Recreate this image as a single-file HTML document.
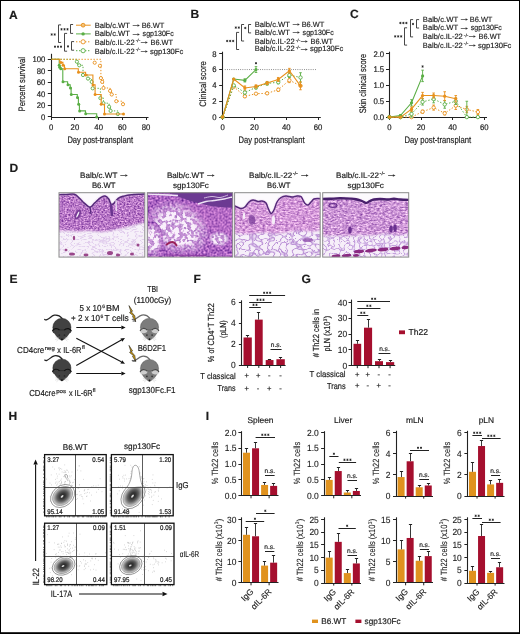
<!DOCTYPE html><html><head><meta charset="utf-8"><style>html,body{margin:0;padding:0;background:#fff;}svg{display:block;will-change:transform;}text{font-family:"Liberation Sans",sans-serif;text-rendering:geometricPrecision;fill:#1c1c1c;stroke:#1c1c1c;stroke-width:0.18px;}</style></head><body>
<svg width="520" height="634" viewBox="0 0 520 634">
<defs>
<linearGradient id="g1" x1="0" y1="0" x2="0" y2="1">
 <stop offset="0" stop-color="#a868b8"/><stop offset="0.1" stop-color="#9a58b0"/>
 <stop offset="0.5" stop-color="#b070c0"/><stop offset="0.62" stop-color="#d2b0dc"/>
 <stop offset="1" stop-color="#e6d8ee"/></linearGradient>
<linearGradient id="g2" x1="0" y1="0" x2="0" y2="1">
 <stop offset="0" stop-color="#9050a8"/><stop offset="0.3" stop-color="#b070c4"/>
 <stop offset="1" stop-color="#c8a0d8"/></linearGradient>
<linearGradient id="g3" x1="0" y1="0" x2="0" y2="1">
 <stop offset="0" stop-color="#fbf8fc"/><stop offset="0.15" stop-color="#f0e0f2"/>
 <stop offset="0.2" stop-color="#c890d0"/><stop offset="0.6" stop-color="#c890d0"/>
 <stop offset="0.66" stop-color="#ece0f2"/><stop offset="1" stop-color="#eee4f4"/></linearGradient>
<linearGradient id="g4" x1="0" y1="0" x2="0" y2="1">
 <stop offset="0" stop-color="#fbf8fc"/><stop offset="0.1" stop-color="#fbf8fc"/>
 <stop offset="0.13" stop-color="#603080"/><stop offset="0.2" stop-color="#c090cc"/>
 <stop offset="0.65" stop-color="#c498d0"/><stop offset="0.7" stop-color="#eee4f4"/>
 <stop offset="1" stop-color="#e8d8ee"/></linearGradient>
<filter id="fSoft" x="-0.1" y="-0.1" width="1.2" height="1.2"><feGaussianBlur stdDeviation="1.1"/></filter><radialGradient id="rgF2"><stop offset="0" stop-color="#fff"/><stop offset="0.55" stop-color="#fff"/><stop offset="1" stop-color="#000"/></radialGradient><filter id="fD1" x="0" y="0" width="1" height="1" color-interpolation-filters="sRGB">
 <feTurbulence type="fractalNoise" baseFrequency="0.55 0.75" numOctaves="2" seed="3"/>
 <feColorMatrix type="matrix" values="0.798 0 0 0 0.321  0.874 0 0 0 0.033  0.570 0 0 0 0.495  0 0 0 0 1"/>
 <feGaussianBlur stdDeviation="0.4"/>
</filter>
<filter id="fD2" x="0" y="0" width="1" height="1" color-interpolation-filters="sRGB">
 <feTurbulence type="fractalNoise" baseFrequency="0.5" numOctaves="2" seed="8"/>
 <feColorMatrix type="matrix" values="0.874 0 0 0 0.233  0.798 0 0 0 -0.009  0.570 0 0 0 0.475  0 0 0 0 1"/>
 <feGaussianBlur stdDeviation="0.4"/>
</filter>
<filter id="fD3" x="0" y="0" width="1" height="1" color-interpolation-filters="sRGB">
 <feTurbulence type="fractalNoise" baseFrequency="0.35 0.7" numOctaves="2" seed="13"/>
 <feColorMatrix type="matrix" values="0.684 0 0 0 0.488  0.836 0 0 0 0.182  0.494 0 0 0 0.603  0 0 0 0 1"/>
 <feGaussianBlur stdDeviation="0.4"/>
</filter>
<filter id="fD4" x="0" y="0" width="1" height="1" color-interpolation-filters="sRGB">
 <feTurbulence type="fractalNoise" baseFrequency="0.35 0.7" numOctaves="2" seed="17"/>
 <feColorMatrix type="matrix" values="0.741 0 0 0 0.430  0.874 0 0 0 0.153  0.532 0 0 0 0.574  0 0 0 0 1"/>
 <feGaussianBlur stdDeviation="0.4"/>
</filter>
<filter id="fLace1" x="0" y="0" width="1" height="1" color-interpolation-filters="sRGB">
 <feTurbulence type="turbulence" baseFrequency="0.14 0.3" numOctaves="1" seed="5"/>
 <feColorMatrix type="matrix" values="0 0 0 0 0.76  0 0 0 0 0.6  0 0 0 0 0.86  -3.5 0 0 0 0.38"/>
 <feGaussianBlur stdDeviation="0.3"/>
</filter><filter id="fLace3" x="0" y="0" width="1" height="1" color-interpolation-filters="sRGB">
 <feTurbulence type="turbulence" baseFrequency="0.16 0.2" numOctaves="1" seed="9"/>
 <feColorMatrix type="matrix" values="0 0 0 0 0.7  0 0 0 0 0.52  0 0 0 0 0.82  -5 0 0 0 0.85"/>
 <feGaussianBlur stdDeviation="0.3"/>
</filter><filter id="fLace4" x="0" y="0" width="1" height="1" color-interpolation-filters="sRGB">
 <feTurbulence type="turbulence" baseFrequency="0.2 0.24" numOctaves="1" seed="4"/>
 <feColorMatrix type="matrix" values="0 0 0 0 0.72  0 0 0 0 0.55  0 0 0 0 0.84  -5 0 0 0 0.8"/>
 <feGaussianBlur stdDeviation="0.3"/>
</filter><filter id="fBlob" x="0" y="0" width="1" height="1" color-interpolation-filters="sRGB">
 <feTurbulence type="fractalNoise" baseFrequency="0.24" numOctaves="2" seed="21"/>
 <feColorMatrix type="matrix" values="0 0 0 0 1  0 0 0 0 0.98  0 0 0 0 1  9 0 0 0 -4.0"/>
 <feGaussianBlur stdDeviation="0.3"/>
</filter>
<clipPath id="hc0"><rect x="59.0" y="192.7" width="85.80000000000001" height="64.40000000000003"/></clipPath><clipPath id="hc1"><rect x="147.3" y="192.7" width="85.39999999999998" height="64.40000000000003"/></clipPath><clipPath id="hc2"><rect x="234.6" y="192.7" width="85.6" height="64.40000000000003"/></clipPath><clipPath id="hc3"><rect x="322.7" y="192.7" width="86.0" height="64.40000000000003"/></clipPath><radialGradient id="gBlob"><stop offset="0" stop-color="#222"/><stop offset="0.3" stop-color="#383838"/><stop offset="0.55" stop-color="#606060"/><stop offset="0.8" stop-color="#a4a4a4"/><stop offset="1" stop-color="#e0e0e0"/></radialGradient></defs>
<rect x="0.00" y="0.00" width="520.00" height="634.00" fill="#fff"/>
<text x="9.00" y="18.60" font-size="12" font-weight="bold" fill="#111" stroke="#111">A</text>
<line x1="76.00" y1="25.20" x2="90.70" y2="25.20" stroke="#E8901C" stroke-width="1"/>
<circle cx="83.10" cy="25.20" r="1.9" fill="#f2c27a" stroke="#E8901C" stroke-width="0.9"/>
<line x1="76.00" y1="33.90" x2="90.70" y2="33.90" stroke="#5AAE45" stroke-width="1"/>
<circle cx="83.10" cy="33.90" r="1.7" fill="#5AAE45" stroke="none" stroke-width="1"/>
<line x1="76.00" y1="41.80" x2="90.70" y2="41.80" stroke="#E8901C" stroke-width="1" stroke-dasharray="1.4,1.6"/>
<circle cx="83.10" cy="41.80" r="2.1" fill="#fff" stroke="#E8901C" stroke-width="0.9"/>
<line x1="76.00" y1="50.70" x2="90.70" y2="50.70" stroke="#5AAE45" stroke-width="1" stroke-dasharray="1.4,1.6"/>
<circle cx="83.10" cy="50.70" r="2.1" fill="#fff" stroke="#5AAE45" stroke-width="0.9"/>
<text x="94.70" y="27.80" font-size="7.6" fill="#1e1e1e" stroke="#1e1e1e" textLength="35.3" lengthAdjust="spacingAndGlyphs" style="stroke-width:0.16px">Balb/c.WT</text>
<line x1="132.70" y1="25.50" x2="137.80" y2="25.50" stroke="#333" stroke-width="0.7"/>
<path d="M139.90,25.50 L137.50,24.25 L137.50,26.75 Z" stroke="none" stroke-width="1" fill="#333"/>
<text x="141.70" y="27.80" font-size="7.6" fill="#1e1e1e" stroke="#1e1e1e" textLength="22.6" lengthAdjust="spacingAndGlyphs" style="stroke-width:0.16px">B6.WT</text>
<text x="94.70" y="36.40" font-size="7.6" fill="#1e1e1e" stroke="#1e1e1e" textLength="35.3" lengthAdjust="spacingAndGlyphs" style="stroke-width:0.16px">Balb/c.WT</text>
<line x1="132.70" y1="34.50" x2="137.80" y2="34.50" stroke="#333" stroke-width="0.7"/>
<path d="M139.90,34.50 L137.50,33.25 L137.50,35.75 Z" stroke="none" stroke-width="1" fill="#333"/>
<text x="142.60" y="36.40" font-size="7.6" fill="#1e1e1e" stroke="#1e1e1e" textLength="31.1" lengthAdjust="spacingAndGlyphs" style="stroke-width:0.16px">sgp130Fc</text>
<text x="94.70" y="45.00" font-size="7.6" fill="#1e1e1e" stroke="#1e1e1e" textLength="40.0" lengthAdjust="spacingAndGlyphs" style="stroke-width:0.16px">Balb/c.IL-22</text>
<text x="135.70" y="42.40" font-size="4.4" fill="#1e1e1e" stroke="#1e1e1e" textLength="4.6" lengthAdjust="spacingAndGlyphs" style="stroke-width:0.16px">-/-</text>
<line x1="140.80" y1="42.50" x2="145.70" y2="42.50" stroke="#333" stroke-width="0.7"/>
<path d="M147.80,42.50 L145.40,41.25 L145.40,43.75 Z" stroke="none" stroke-width="1" fill="#333"/>
<text x="150.50" y="45.00" font-size="7.6" fill="#1e1e1e" stroke="#1e1e1e" textLength="22.5" lengthAdjust="spacingAndGlyphs" style="stroke-width:0.16px">B6.WT</text>
<text x="94.70" y="53.80" font-size="7.6" fill="#1e1e1e" stroke="#1e1e1e" textLength="40.0" lengthAdjust="spacingAndGlyphs" style="stroke-width:0.16px">Balb/c.IL-22</text>
<text x="135.70" y="51.20" font-size="4.4" fill="#1e1e1e" stroke="#1e1e1e" textLength="4.6" lengthAdjust="spacingAndGlyphs" style="stroke-width:0.16px">-/-</text>
<line x1="140.80" y1="51.50" x2="145.70" y2="51.50" stroke="#333" stroke-width="0.7"/>
<path d="M147.80,51.50 L145.40,50.25 L145.40,52.75 Z" stroke="none" stroke-width="1" fill="#333"/>
<text x="149.90" y="53.80" font-size="7.6" fill="#1e1e1e" stroke="#1e1e1e" textLength="33.4" lengthAdjust="spacingAndGlyphs" style="stroke-width:0.16px">sgp130Fc</text>
<path d="M73.10,24.50 H70.50 V33.40 H73.10" stroke="#333" stroke-width="0.9" fill="none"/>
<path d="M74.10,41.60 H71.50 V50.20 H74.10" stroke="#333" stroke-width="0.9" fill="none"/>
<path d="M61.10,24.90 H58.50 V42.50 H61.10" stroke="#333" stroke-width="0.9" fill="none"/>
<path d="M67.10,33.40 H64.50 V51.20 H67.10" stroke="#333" stroke-width="0.9" fill="none"/>
<path d="M61.50,28.15L61.50,30.45M60.50,28.73L62.50,29.88M62.50,28.73L60.50,29.88M64.50,28.15L64.50,30.45M63.50,28.73L65.50,29.88M65.50,28.73L63.50,29.88M67.50,28.15L67.50,30.45M66.50,28.73L68.50,29.88M68.50,28.73L66.50,29.88" stroke="#1a1a1a" stroke-width="0.72" fill="none"/>
<path d="M51.70,33.35L51.70,35.65M50.70,33.92L52.70,35.08M52.70,33.92L50.70,35.08M54.70,33.35L54.70,35.65M53.70,33.92L55.70,35.08M55.70,33.92L53.70,35.08" stroke="#1a1a1a" stroke-width="0.72" fill="none"/>
<path d="M55.00,45.55L55.00,47.85M54.00,46.12L56.00,47.28M56.00,46.12L54.00,47.28M58.00,45.55L58.00,47.85M57.00,46.12L59.00,47.28M59.00,46.12L57.00,47.28M61.00,45.55L61.00,47.85M60.00,46.12L62.00,47.28M62.00,46.12L60.00,47.28" stroke="#1a1a1a" stroke-width="0.72" fill="none"/>
<path d="M68.00,45.25L68.00,47.55M67.00,45.82L69.00,46.98M69.00,45.82L67.00,46.98" stroke="#1a1a1a" stroke-width="0.72" fill="none"/>
<line x1="51.50" y1="53.80" x2="51.50" y2="118.00" stroke="#222" stroke-width="1.1"/>
<line x1="51.00" y1="117.50" x2="148.50" y2="117.50" stroke="#222" stroke-width="1.2"/>
<line x1="47.80" y1="116.50" x2="51.50" y2="116.50" stroke="#222" stroke-width="1"/>
<text x="45.40" y="119.80" font-size="8.2" text-anchor="end" textLength="4.3" lengthAdjust="spacingAndGlyphs">0</text>
<line x1="47.80" y1="105.50" x2="51.50" y2="105.50" stroke="#222" stroke-width="1"/>
<text x="45.40" y="108.26" font-size="8.2" text-anchor="end" textLength="8.6" lengthAdjust="spacingAndGlyphs">20</text>
<line x1="47.80" y1="93.50" x2="51.50" y2="93.50" stroke="#222" stroke-width="1"/>
<text x="45.40" y="96.72" font-size="8.2" text-anchor="end" textLength="8.6" lengthAdjust="spacingAndGlyphs">40</text>
<line x1="47.80" y1="82.50" x2="51.50" y2="82.50" stroke="#222" stroke-width="1"/>
<text x="45.40" y="85.18" font-size="8.2" text-anchor="end" textLength="8.6" lengthAdjust="spacingAndGlyphs">60</text>
<line x1="47.80" y1="70.50" x2="51.50" y2="70.50" stroke="#222" stroke-width="1"/>
<text x="45.40" y="73.64" font-size="8.2" text-anchor="end" textLength="8.6" lengthAdjust="spacingAndGlyphs">80</text>
<line x1="47.80" y1="59.50" x2="51.50" y2="59.50" stroke="#222" stroke-width="1"/>
<text x="45.40" y="62.10" font-size="8.2" text-anchor="end" textLength="12.899999999999999" lengthAdjust="spacingAndGlyphs">100</text>
<line x1="51.50" y1="117.50" x2="51.50" y2="120.00" stroke="#222" stroke-width="1"/>
<text x="51.20" y="130.00" font-size="8.2" text-anchor="middle" textLength="4.3" lengthAdjust="spacingAndGlyphs">0</text>
<line x1="74.50" y1="117.50" x2="74.50" y2="120.00" stroke="#222" stroke-width="1"/>
<text x="74.92" y="130.00" font-size="8.2" text-anchor="middle" textLength="8.6" lengthAdjust="spacingAndGlyphs">20</text>
<line x1="98.50" y1="117.50" x2="98.50" y2="120.00" stroke="#222" stroke-width="1"/>
<text x="98.64" y="130.00" font-size="8.2" text-anchor="middle" textLength="8.6" lengthAdjust="spacingAndGlyphs">40</text>
<line x1="122.50" y1="117.50" x2="122.50" y2="120.00" stroke="#222" stroke-width="1"/>
<text x="122.36" y="130.00" font-size="8.2" text-anchor="middle" textLength="8.6" lengthAdjust="spacingAndGlyphs">60</text>
<line x1="146.50" y1="117.50" x2="146.50" y2="120.00" stroke="#222" stroke-width="1"/>
<text x="146.08" y="130.00" font-size="8.2" text-anchor="middle" textLength="8.6" lengthAdjust="spacingAndGlyphs">80</text>
<text x="100.20" y="143.40" font-size="9.4" text-anchor="middle" textLength="65.6" lengthAdjust="spacingAndGlyphs">Day post-transplant</text>
<text x="25.20" y="84.20" font-size="9.4" text-anchor="middle" textLength="54.5" lengthAdjust="spacingAndGlyphs" transform="rotate(-90 25.20 84.20)">Percent survival</text>
<path d="M51.50,59.30 H77.50 V65.30 H83.00 V75.00 H88.00 V78.60 H91.70 V81.90 H92.70 V88.30 H100.40 V98.10 H103.50 V103.20 H109.10 V106.80 H110.60 V110.90 H117.80 V114.00" stroke="#5AAE45" stroke-width="1" fill="none" stroke-dasharray="1.3,1.7"/>
<circle cx="76.90" cy="61.70" r="1.6" fill="#fff" stroke="#5AAE45" stroke-width="0.9"/>
<circle cx="79.20" cy="65.30" r="1.6" fill="#fff" stroke="#5AAE45" stroke-width="0.9"/>
<circle cx="83.00" cy="75.00" r="1.6" fill="#fff" stroke="#5AAE45" stroke-width="0.9"/>
<circle cx="88.00" cy="78.60" r="1.6" fill="#fff" stroke="#5AAE45" stroke-width="0.9"/>
<circle cx="91.70" cy="81.90" r="1.6" fill="#fff" stroke="#5AAE45" stroke-width="0.9"/>
<circle cx="92.70" cy="88.30" r="1.6" fill="#fff" stroke="#5AAE45" stroke-width="0.9"/>
<circle cx="100.40" cy="98.10" r="1.6" fill="#fff" stroke="#5AAE45" stroke-width="0.9"/>
<circle cx="103.50" cy="103.20" r="1.6" fill="#fff" stroke="#5AAE45" stroke-width="0.9"/>
<circle cx="109.10" cy="106.80" r="1.6" fill="#fff" stroke="#5AAE45" stroke-width="0.9"/>
<circle cx="110.60" cy="110.90" r="1.6" fill="#fff" stroke="#5AAE45" stroke-width="0.9"/>
<circle cx="117.80" cy="114.00" r="1.6" fill="#fff" stroke="#5AAE45" stroke-width="0.9"/>
<path d="M51.50,59.30 H100.90 V78.10 H103.50 V88.00 H110.10 V90.90 H111.70 V94.50 H116.30 V101.20 H123.00 V104.20" stroke="#E8901C" stroke-width="1" fill="none" stroke-dasharray="1.3,1.7"/>
<circle cx="94.70" cy="62.70" r="1.6" fill="#fff" stroke="#E8901C" stroke-width="0.9"/>
<circle cx="99.90" cy="65.80" r="1.6" fill="#fff" stroke="#E8901C" stroke-width="0.9"/>
<circle cx="100.90" cy="78.10" r="1.6" fill="#fff" stroke="#E8901C" stroke-width="0.9"/>
<circle cx="102.20" cy="81.90" r="1.6" fill="#fff" stroke="#E8901C" stroke-width="0.9"/>
<circle cx="103.50" cy="88.00" r="1.6" fill="#fff" stroke="#E8901C" stroke-width="0.9"/>
<circle cx="110.10" cy="90.90" r="1.6" fill="#fff" stroke="#E8901C" stroke-width="0.9"/>
<circle cx="111.70" cy="94.50" r="1.6" fill="#fff" stroke="#E8901C" stroke-width="0.9"/>
<circle cx="116.30" cy="101.20" r="1.6" fill="#fff" stroke="#E8901C" stroke-width="0.9"/>
<circle cx="123.00" cy="104.20" r="1.6" fill="#fff" stroke="#E8901C" stroke-width="0.9"/>
<path d="M51.50,59.30 H59.20 V65.30 H59.70 V67.30 H60.80 V68.80 H62.80 V81.70 H67.60 V84.70 H70.20 V88.00 H71.10 V94.50 H77.30 V97.60 H78.40 V104.20 H79.40 V110.90 H85.50 V113.70 H96.70 V117.00" stroke="#5AAE45" stroke-width="1.1" fill="none"/>
<circle cx="59.20" cy="65.30" r="1.5" fill="#5AAE45" stroke="none" stroke-width="1"/>
<circle cx="59.70" cy="67.30" r="1.5" fill="#5AAE45" stroke="none" stroke-width="1"/>
<circle cx="60.80" cy="68.80" r="1.5" fill="#5AAE45" stroke="none" stroke-width="1"/>
<circle cx="63.00" cy="81.70" r="1.5" fill="#5AAE45" stroke="none" stroke-width="1"/>
<circle cx="68.00" cy="84.70" r="1.5" fill="#5AAE45" stroke="none" stroke-width="1"/>
<circle cx="70.50" cy="88.00" r="1.5" fill="#5AAE45" stroke="none" stroke-width="1"/>
<circle cx="71.30" cy="94.50" r="1.5" fill="#5AAE45" stroke="none" stroke-width="1"/>
<circle cx="77.50" cy="97.60" r="1.5" fill="#5AAE45" stroke="none" stroke-width="1"/>
<circle cx="78.70" cy="104.20" r="1.5" fill="#5AAE45" stroke="none" stroke-width="1"/>
<circle cx="79.70" cy="110.90" r="1.5" fill="#5AAE45" stroke="none" stroke-width="1"/>
<circle cx="85.70" cy="113.70" r="1.5" fill="#5AAE45" stroke="none" stroke-width="1"/>
<circle cx="96.70" cy="117.00" r="1.5" fill="#5AAE45" stroke="none" stroke-width="1"/>
<path d="M51.50,59.30 H59.80 V62.40 H62.90 V65.30 H64.50 V68.80 H78.30 V72.20 H85.60 V75.00 H92.90 V84.70 H95.10 V94.50 H101.20 V104.20 H104.50 V114.00 H123.50 V114.00" stroke="#E8901C" stroke-width="1.1" fill="none"/>
<circle cx="60.80" cy="62.40" r="1.5" fill="#E8901C" stroke="none" stroke-width="1"/>
<circle cx="63.10" cy="65.30" r="1.5" fill="#E8901C" stroke="none" stroke-width="1"/>
<circle cx="64.70" cy="68.80" r="1.5" fill="#E8901C" stroke="none" stroke-width="1"/>
<circle cx="78.50" cy="72.20" r="1.5" fill="#E8901C" stroke="none" stroke-width="1"/>
<circle cx="85.70" cy="75.00" r="1.5" fill="#E8901C" stroke="none" stroke-width="1"/>
<circle cx="93.00" cy="85.00" r="1.5" fill="#E8901C" stroke="none" stroke-width="1"/>
<circle cx="95.10" cy="94.50" r="1.5" fill="#E8901C" stroke="none" stroke-width="1"/>
<circle cx="101.20" cy="104.20" r="1.5" fill="#E8901C" stroke="none" stroke-width="1"/>
<circle cx="104.50" cy="114.00" r="1.5" fill="#E8901C" stroke="none" stroke-width="1"/>
<circle cx="123.50" cy="114.00" r="1.5" fill="#E8901C" stroke="none" stroke-width="1"/>
<text x="190.40" y="18.40" font-size="12" font-weight="bold" fill="#111" stroke="#111">B</text>
<text x="254.70" y="27.10" font-size="7.6" fill="#1e1e1e" stroke="#1e1e1e" textLength="35.3" lengthAdjust="spacingAndGlyphs" style="stroke-width:0.16px">Balb/c.WT</text>
<line x1="292.70" y1="24.50" x2="297.80" y2="24.50" stroke="#333" stroke-width="0.7"/>
<path d="M299.90,24.50 L297.50,23.25 L297.50,25.75 Z" stroke="none" stroke-width="1" fill="#333"/>
<text x="301.70" y="27.10" font-size="7.6" fill="#1e1e1e" stroke="#1e1e1e" textLength="22.6" lengthAdjust="spacingAndGlyphs" style="stroke-width:0.16px">B6.WT</text>
<text x="254.70" y="34.90" font-size="7.6" fill="#1e1e1e" stroke="#1e1e1e" textLength="35.3" lengthAdjust="spacingAndGlyphs" style="stroke-width:0.16px">Balb/c.WT</text>
<line x1="292.70" y1="32.50" x2="297.80" y2="32.50" stroke="#333" stroke-width="0.7"/>
<path d="M299.90,32.50 L297.50,31.25 L297.50,33.75 Z" stroke="none" stroke-width="1" fill="#333"/>
<text x="302.60" y="34.90" font-size="7.6" fill="#1e1e1e" stroke="#1e1e1e" textLength="31.1" lengthAdjust="spacingAndGlyphs" style="stroke-width:0.16px">sgp130Fc</text>
<text x="254.70" y="44.10" font-size="7.6" fill="#1e1e1e" stroke="#1e1e1e" textLength="40.0" lengthAdjust="spacingAndGlyphs" style="stroke-width:0.16px">Balb/c.IL-22</text>
<text x="295.70" y="41.50" font-size="4.4" fill="#1e1e1e" stroke="#1e1e1e" textLength="4.6" lengthAdjust="spacingAndGlyphs" style="stroke-width:0.16px">-/-</text>
<line x1="300.80" y1="41.50" x2="305.70" y2="41.50" stroke="#333" stroke-width="0.7"/>
<path d="M307.80,41.50 L305.40,40.25 L305.40,42.75 Z" stroke="none" stroke-width="1" fill="#333"/>
<text x="310.50" y="44.10" font-size="7.6" fill="#1e1e1e" stroke="#1e1e1e" textLength="22.5" lengthAdjust="spacingAndGlyphs" style="stroke-width:0.16px">B6.WT</text>
<text x="254.70" y="51.40" font-size="7.6" fill="#1e1e1e" stroke="#1e1e1e" textLength="40.0" lengthAdjust="spacingAndGlyphs" style="stroke-width:0.16px">Balb/c.IL-22</text>
<text x="295.70" y="48.80" font-size="4.4" fill="#1e1e1e" stroke="#1e1e1e" textLength="4.6" lengthAdjust="spacingAndGlyphs" style="stroke-width:0.16px">-/-</text>
<line x1="300.80" y1="49.50" x2="305.70" y2="49.50" stroke="#333" stroke-width="0.7"/>
<path d="M307.80,49.50 L305.40,48.25 L305.40,50.75 Z" stroke="none" stroke-width="1" fill="#333"/>
<text x="309.90" y="51.40" font-size="7.6" fill="#1e1e1e" stroke="#1e1e1e" textLength="33.4" lengthAdjust="spacingAndGlyphs" style="stroke-width:0.16px">sgp130Fc</text>
<path d="M251.10,24.50 H248.50 V32.90 H251.10" stroke="#333" stroke-width="0.9" fill="none"/>
<path d="M244.10,24.50 H241.50 V41.00 H244.10" stroke="#333" stroke-width="0.9" fill="none"/>
<path d="M239.10,32.40 H236.50 V49.50 H239.10" stroke="#333" stroke-width="0.9" fill="none"/>
<path d="M245.30,26.85L245.30,29.15M244.30,27.43L246.30,28.57M246.30,27.43L244.30,28.57" stroke="#1a1a1a" stroke-width="0.72" fill="none"/>
<path d="M235.80,26.45L235.80,28.75M234.80,27.03L236.80,28.18M236.80,27.03L234.80,28.18M238.80,26.45L238.80,28.75M237.80,27.03L239.80,28.18M239.80,27.03L237.80,28.18" stroke="#1a1a1a" stroke-width="0.72" fill="none"/>
<path d="M227.20,39.85L227.20,42.15M226.20,40.42L228.20,41.58M228.20,40.42L226.20,41.58M230.20,39.85L230.20,42.15M229.20,40.42L231.20,41.58M231.20,40.42L229.20,41.58M233.20,39.85L233.20,42.15M232.20,40.42L234.20,41.58M234.20,40.42L232.20,41.58" stroke="#1a1a1a" stroke-width="0.72" fill="none"/>
<line x1="222.50" y1="51.70" x2="222.50" y2="118.00" stroke="#222" stroke-width="1.1"/>
<line x1="222.00" y1="117.50" x2="320.80" y2="117.50" stroke="#222" stroke-width="1.2"/>
<line x1="219.20" y1="117.50" x2="222.50" y2="117.50" stroke="#222" stroke-width="1"/>
<text x="216.60" y="120.00" font-size="8.2" text-anchor="end" textLength="4.3" lengthAdjust="spacingAndGlyphs">0</text>
<line x1="219.20" y1="101.50" x2="222.50" y2="101.50" stroke="#222" stroke-width="1"/>
<text x="216.60" y="104.15" font-size="8.2" text-anchor="end" textLength="4.3" lengthAdjust="spacingAndGlyphs">2</text>
<line x1="219.20" y1="85.50" x2="222.50" y2="85.50" stroke="#222" stroke-width="1"/>
<text x="216.60" y="88.30" font-size="8.2" text-anchor="end" textLength="4.3" lengthAdjust="spacingAndGlyphs">4</text>
<line x1="219.20" y1="69.50" x2="222.50" y2="69.50" stroke="#222" stroke-width="1"/>
<text x="216.60" y="72.45" font-size="8.2" text-anchor="end" textLength="4.3" lengthAdjust="spacingAndGlyphs">6</text>
<line x1="219.20" y1="53.50" x2="222.50" y2="53.50" stroke="#222" stroke-width="1"/>
<text x="216.60" y="56.60" font-size="8.2" text-anchor="end" textLength="4.3" lengthAdjust="spacingAndGlyphs">8</text>
<line x1="222.50" y1="117.50" x2="222.50" y2="120.00" stroke="#222" stroke-width="1"/>
<text x="222.60" y="130.30" font-size="8.2" text-anchor="middle" textLength="4.3" lengthAdjust="spacingAndGlyphs">0</text>
<line x1="254.50" y1="117.50" x2="254.50" y2="120.00" stroke="#222" stroke-width="1"/>
<text x="254.40" y="130.30" font-size="8.2" text-anchor="middle" textLength="8.6" lengthAdjust="spacingAndGlyphs">20</text>
<line x1="286.50" y1="117.50" x2="286.50" y2="120.00" stroke="#222" stroke-width="1"/>
<text x="286.20" y="130.30" font-size="8.2" text-anchor="middle" textLength="8.6" lengthAdjust="spacingAndGlyphs">40</text>
<line x1="318.50" y1="117.50" x2="318.50" y2="120.00" stroke="#222" stroke-width="1"/>
<text x="318.00" y="130.30" font-size="8.2" text-anchor="middle" textLength="8.6" lengthAdjust="spacingAndGlyphs">60</text>
<text x="271.50" y="143.00" font-size="9.4" text-anchor="middle" textLength="66" lengthAdjust="spacingAndGlyphs">Day post-transplant</text>
<text x="206.20" y="84.00" font-size="9.4" text-anchor="middle" textLength="45.5" lengthAdjust="spacingAndGlyphs" transform="rotate(-90 206.20 84.00)">Clinical score</text>
<line x1="224.80" y1="69.55" x2="316.30" y2="69.55" stroke="#777" stroke-width="0.9" stroke-dasharray="0.9,1.3"/>
<path d="M222.60,117.10 L233.73,86.67 L244.86,96.34 L255.99,93.72 L267.12,93.32 L278.25,89.76 L289.38,80.25 L300.51,85.80" stroke="#E8901C" stroke-width="1.0" fill="none" stroke-dasharray="1.4,1.8"/>
<line x1="244.86" y1="97.53" x2="244.86" y2="95.15" stroke="#E8901C" stroke-width="0.9"/>
<line x1="243.56" y1="95.15" x2="246.16" y2="95.15" stroke="#E8901C" stroke-width="0.9"/>
<line x1="243.56" y1="97.53" x2="246.16" y2="97.53" stroke="#E8901C" stroke-width="0.9"/>
<line x1="267.12" y1="94.51" x2="267.12" y2="92.14" stroke="#E8901C" stroke-width="0.9"/>
<line x1="265.82" y1="92.14" x2="268.42" y2="92.14" stroke="#E8901C" stroke-width="0.9"/>
<line x1="265.82" y1="94.51" x2="268.42" y2="94.51" stroke="#E8901C" stroke-width="0.9"/>
<line x1="278.25" y1="91.34" x2="278.25" y2="88.17" stroke="#E8901C" stroke-width="0.9"/>
<line x1="276.95" y1="88.17" x2="279.55" y2="88.17" stroke="#E8901C" stroke-width="0.9"/>
<line x1="276.95" y1="91.34" x2="279.55" y2="91.34" stroke="#E8901C" stroke-width="0.9"/>
<line x1="289.38" y1="82.63" x2="289.38" y2="77.87" stroke="#E8901C" stroke-width="0.9"/>
<line x1="288.08" y1="77.87" x2="290.68" y2="77.87" stroke="#E8901C" stroke-width="0.9"/>
<line x1="288.08" y1="82.63" x2="290.68" y2="82.63" stroke="#E8901C" stroke-width="0.9"/>
<circle cx="222.60" cy="117.10" r="1.7" fill="#fff" stroke="#E8901C" stroke-width="0.9"/>
<circle cx="233.73" cy="86.67" r="1.7" fill="#fff" stroke="#E8901C" stroke-width="0.9"/>
<circle cx="244.86" cy="96.34" r="1.7" fill="#fff" stroke="#E8901C" stroke-width="0.9"/>
<circle cx="255.99" cy="93.72" r="1.7" fill="#fff" stroke="#E8901C" stroke-width="0.9"/>
<circle cx="267.12" cy="93.32" r="1.7" fill="#fff" stroke="#E8901C" stroke-width="0.9"/>
<circle cx="278.25" cy="89.76" r="1.7" fill="#fff" stroke="#E8901C" stroke-width="0.9"/>
<circle cx="289.38" cy="80.25" r="1.7" fill="#fff" stroke="#E8901C" stroke-width="0.9"/>
<circle cx="300.51" cy="85.80" r="1.7" fill="#fff" stroke="#E8901C" stroke-width="0.9"/>
<path d="M222.60,117.10 L233.73,85.40 L244.86,92.53 L255.99,87.38 L267.12,83.42 L278.25,82.23 L289.38,75.10 L300.51,77.47" stroke="#5AAE45" stroke-width="1.0" fill="none" stroke-dasharray="1.4,1.8"/>
<line x1="244.86" y1="94.12" x2="244.86" y2="90.95" stroke="#5AAE45" stroke-width="0.9"/>
<line x1="243.56" y1="90.95" x2="246.16" y2="90.95" stroke="#5AAE45" stroke-width="0.9"/>
<line x1="243.56" y1="94.12" x2="246.16" y2="94.12" stroke="#5AAE45" stroke-width="0.9"/>
<line x1="255.99" y1="88.97" x2="255.99" y2="85.80" stroke="#5AAE45" stroke-width="0.9"/>
<line x1="254.69" y1="85.80" x2="257.29" y2="85.80" stroke="#5AAE45" stroke-width="0.9"/>
<line x1="254.69" y1="88.97" x2="257.29" y2="88.97" stroke="#5AAE45" stroke-width="0.9"/>
<line x1="267.12" y1="85.00" x2="267.12" y2="81.83" stroke="#5AAE45" stroke-width="0.9"/>
<line x1="265.82" y1="81.83" x2="268.42" y2="81.83" stroke="#5AAE45" stroke-width="0.9"/>
<line x1="265.82" y1="85.00" x2="268.42" y2="85.00" stroke="#5AAE45" stroke-width="0.9"/>
<line x1="278.25" y1="83.81" x2="278.25" y2="80.64" stroke="#5AAE45" stroke-width="0.9"/>
<line x1="276.95" y1="80.64" x2="279.55" y2="80.64" stroke="#5AAE45" stroke-width="0.9"/>
<line x1="276.95" y1="83.81" x2="279.55" y2="83.81" stroke="#5AAE45" stroke-width="0.9"/>
<line x1="289.38" y1="77.47" x2="289.38" y2="72.72" stroke="#5AAE45" stroke-width="0.9"/>
<line x1="288.08" y1="72.72" x2="290.68" y2="72.72" stroke="#5AAE45" stroke-width="0.9"/>
<line x1="288.08" y1="77.47" x2="290.68" y2="77.47" stroke="#5AAE45" stroke-width="0.9"/>
<line x1="300.51" y1="82.23" x2="300.51" y2="72.72" stroke="#5AAE45" stroke-width="0.9"/>
<line x1="299.21" y1="72.72" x2="301.81" y2="72.72" stroke="#5AAE45" stroke-width="0.9"/>
<line x1="299.21" y1="82.23" x2="301.81" y2="82.23" stroke="#5AAE45" stroke-width="0.9"/>
<circle cx="222.60" cy="117.10" r="1.7" fill="#fff" stroke="#5AAE45" stroke-width="0.9"/>
<circle cx="233.73" cy="85.40" r="1.7" fill="#fff" stroke="#5AAE45" stroke-width="0.9"/>
<circle cx="244.86" cy="92.53" r="1.7" fill="#fff" stroke="#5AAE45" stroke-width="0.9"/>
<circle cx="255.99" cy="87.38" r="1.7" fill="#fff" stroke="#5AAE45" stroke-width="0.9"/>
<circle cx="267.12" cy="83.42" r="1.7" fill="#fff" stroke="#5AAE45" stroke-width="0.9"/>
<circle cx="278.25" cy="82.23" r="1.7" fill="#fff" stroke="#5AAE45" stroke-width="0.9"/>
<circle cx="289.38" cy="75.10" r="1.7" fill="#fff" stroke="#5AAE45" stroke-width="0.9"/>
<circle cx="300.51" cy="77.47" r="1.7" fill="#fff" stroke="#5AAE45" stroke-width="0.9"/>
<path d="M222.60,117.10 L233.73,79.06 L244.86,80.41 L255.99,69.55" stroke="#5AAE45" stroke-width="1.1" fill="none"/>
<line x1="244.86" y1="81.99" x2="244.86" y2="78.82" stroke="#5AAE45" stroke-width="0.9"/>
<line x1="243.56" y1="78.82" x2="246.16" y2="78.82" stroke="#5AAE45" stroke-width="0.9"/>
<line x1="243.56" y1="81.99" x2="246.16" y2="81.99" stroke="#5AAE45" stroke-width="0.9"/>
<line x1="255.99" y1="72.48" x2="255.99" y2="66.62" stroke="#5AAE45" stroke-width="0.9"/>
<line x1="254.69" y1="66.62" x2="257.29" y2="66.62" stroke="#5AAE45" stroke-width="0.9"/>
<line x1="254.69" y1="72.48" x2="257.29" y2="72.48" stroke="#5AAE45" stroke-width="0.9"/>
<circle cx="222.60" cy="117.10" r="1.6" fill="#5AAE45" stroke="none" stroke-width="1"/>
<circle cx="233.73" cy="79.06" r="1.6" fill="#5AAE45" stroke="none" stroke-width="1"/>
<circle cx="244.86" cy="80.41" r="1.6" fill="#5AAE45" stroke="none" stroke-width="1"/>
<circle cx="255.99" cy="69.55" r="1.6" fill="#5AAE45" stroke="none" stroke-width="1"/>
<path d="M222.60,117.10 L233.73,79.06 L244.86,87.94 L255.99,86.43 L267.12,83.02 L278.25,79.46 L289.38,70.74 L300.51,85.80" stroke="#E8901C" stroke-width="1.1" fill="none"/>
<line x1="244.86" y1="89.92" x2="244.86" y2="85.95" stroke="#E8901C" stroke-width="0.9"/>
<line x1="243.56" y1="85.95" x2="246.16" y2="85.95" stroke="#E8901C" stroke-width="0.9"/>
<line x1="243.56" y1="89.92" x2="246.16" y2="89.92" stroke="#E8901C" stroke-width="0.9"/>
<line x1="255.99" y1="88.02" x2="255.99" y2="84.85" stroke="#E8901C" stroke-width="0.9"/>
<line x1="254.69" y1="84.85" x2="257.29" y2="84.85" stroke="#E8901C" stroke-width="0.9"/>
<line x1="254.69" y1="88.02" x2="257.29" y2="88.02" stroke="#E8901C" stroke-width="0.9"/>
<line x1="267.12" y1="84.61" x2="267.12" y2="81.44" stroke="#E8901C" stroke-width="0.9"/>
<line x1="265.82" y1="81.44" x2="268.42" y2="81.44" stroke="#E8901C" stroke-width="0.9"/>
<line x1="265.82" y1="84.61" x2="268.42" y2="84.61" stroke="#E8901C" stroke-width="0.9"/>
<line x1="278.25" y1="81.44" x2="278.25" y2="77.47" stroke="#E8901C" stroke-width="0.9"/>
<line x1="276.95" y1="77.47" x2="279.55" y2="77.47" stroke="#E8901C" stroke-width="0.9"/>
<line x1="276.95" y1="81.44" x2="279.55" y2="81.44" stroke="#E8901C" stroke-width="0.9"/>
<line x1="289.38" y1="73.12" x2="289.38" y2="68.36" stroke="#E8901C" stroke-width="0.9"/>
<line x1="288.08" y1="68.36" x2="290.68" y2="68.36" stroke="#E8901C" stroke-width="0.9"/>
<line x1="288.08" y1="73.12" x2="290.68" y2="73.12" stroke="#E8901C" stroke-width="0.9"/>
<line x1="300.51" y1="89.76" x2="300.51" y2="81.83" stroke="#E8901C" stroke-width="0.9"/>
<line x1="299.21" y1="81.83" x2="301.81" y2="81.83" stroke="#E8901C" stroke-width="0.9"/>
<line x1="299.21" y1="89.76" x2="301.81" y2="89.76" stroke="#E8901C" stroke-width="0.9"/>
<circle cx="222.60" cy="117.10" r="1.6" fill="#E8901C" stroke="none" stroke-width="1"/>
<circle cx="233.73" cy="79.06" r="1.6" fill="#E8901C" stroke="none" stroke-width="1"/>
<circle cx="244.86" cy="87.94" r="1.6" fill="#E8901C" stroke="none" stroke-width="1"/>
<circle cx="255.99" cy="86.43" r="1.6" fill="#E8901C" stroke="none" stroke-width="1"/>
<circle cx="267.12" cy="83.02" r="1.6" fill="#E8901C" stroke="none" stroke-width="1"/>
<circle cx="278.25" cy="79.46" r="1.6" fill="#E8901C" stroke="none" stroke-width="1"/>
<circle cx="289.38" cy="70.74" r="1.6" fill="#E8901C" stroke="none" stroke-width="1"/>
<circle cx="300.51" cy="85.80" r="1.6" fill="#E8901C" stroke="none" stroke-width="1"/>
<path d="M255.99,62.05L255.99,64.35M254.99,62.62L256.99,63.78M256.99,62.62L254.99,63.78" stroke="#1a1a1a" stroke-width="0.72" fill="none"/>
<text x="350.00" y="18.40" font-size="12" font-weight="bold" fill="#111" stroke="#111">C</text>
<text x="422.80" y="22.30" font-size="7.6" fill="#1e1e1e" stroke="#1e1e1e" textLength="35.3" lengthAdjust="spacingAndGlyphs" style="stroke-width:0.16px">Balb/c.WT</text>
<line x1="460.80" y1="19.50" x2="465.90" y2="19.50" stroke="#333" stroke-width="0.7"/>
<path d="M468.00,19.50 L465.60,18.25 L465.60,20.75 Z" stroke="none" stroke-width="1" fill="#333"/>
<text x="469.80" y="22.30" font-size="7.6" fill="#1e1e1e" stroke="#1e1e1e" textLength="22.6" lengthAdjust="spacingAndGlyphs" style="stroke-width:0.16px">B6.WT</text>
<text x="422.80" y="30.40" font-size="7.6" fill="#1e1e1e" stroke="#1e1e1e" textLength="35.3" lengthAdjust="spacingAndGlyphs" style="stroke-width:0.16px">Balb/c.WT</text>
<line x1="460.80" y1="28.50" x2="465.90" y2="28.50" stroke="#333" stroke-width="0.7"/>
<path d="M468.00,28.50 L465.60,27.25 L465.60,29.75 Z" stroke="none" stroke-width="1" fill="#333"/>
<text x="470.70" y="30.40" font-size="7.6" fill="#1e1e1e" stroke="#1e1e1e" textLength="31.1" lengthAdjust="spacingAndGlyphs" style="stroke-width:0.16px">sgp130Fc</text>
<text x="422.80" y="39.30" font-size="7.6" fill="#1e1e1e" stroke="#1e1e1e" textLength="40.0" lengthAdjust="spacingAndGlyphs" style="stroke-width:0.16px">Balb/c.IL-22</text>
<text x="463.80" y="36.70" font-size="4.4" fill="#1e1e1e" stroke="#1e1e1e" textLength="4.6" lengthAdjust="spacingAndGlyphs" style="stroke-width:0.16px">-/-</text>
<line x1="468.90" y1="36.50" x2="473.80" y2="36.50" stroke="#333" stroke-width="0.7"/>
<path d="M475.90,36.50 L473.50,35.25 L473.50,37.75 Z" stroke="none" stroke-width="1" fill="#333"/>
<text x="478.60" y="39.30" font-size="7.6" fill="#1e1e1e" stroke="#1e1e1e" textLength="22.5" lengthAdjust="spacingAndGlyphs" style="stroke-width:0.16px">B6.WT</text>
<text x="422.80" y="47.70" font-size="7.6" fill="#1e1e1e" stroke="#1e1e1e" textLength="40.0" lengthAdjust="spacingAndGlyphs" style="stroke-width:0.16px">Balb/c.IL-22</text>
<text x="463.80" y="45.10" font-size="4.4" fill="#1e1e1e" stroke="#1e1e1e" textLength="4.6" lengthAdjust="spacingAndGlyphs" style="stroke-width:0.16px">-/-</text>
<line x1="468.90" y1="45.50" x2="473.80" y2="45.50" stroke="#333" stroke-width="0.7"/>
<path d="M475.90,45.50 L473.50,44.25 L473.50,46.75 Z" stroke="none" stroke-width="1" fill="#333"/>
<text x="478.00" y="47.70" font-size="7.6" fill="#1e1e1e" stroke="#1e1e1e" textLength="33.4" lengthAdjust="spacingAndGlyphs" style="stroke-width:0.16px">sgp130Fc</text>
<path d="M419.10,19.60 H416.50 V28.00 H419.10" stroke="#333" stroke-width="0.9" fill="none"/>
<path d="M413.10,19.60 H410.50 V36.90 H413.10" stroke="#333" stroke-width="0.9" fill="none"/>
<path d="M407.10,27.80 H404.50 V45.10 H407.10" stroke="#333" stroke-width="0.9" fill="none"/>
<path d="M413.00,22.85L413.00,25.15M412.00,23.43L414.00,24.57M414.00,23.43L412.00,24.57" stroke="#1a1a1a" stroke-width="0.72" fill="none"/>
<path d="M400.40,21.85L400.40,24.15M399.40,22.43L401.40,23.57M401.40,22.43L399.40,23.57M403.40,21.85L403.40,24.15M402.40,22.43L404.40,23.57M404.40,22.43L402.40,23.57M406.40,21.85L406.40,24.15M405.40,22.43L407.40,23.57M407.40,22.43L405.40,23.57" stroke="#1a1a1a" stroke-width="0.72" fill="none"/>
<path d="M395.20,35.25L395.20,37.55M394.20,35.82L396.20,36.98M396.20,35.82L394.20,36.98M398.20,35.25L398.20,37.55M397.20,35.82L399.20,36.98M399.20,35.82L397.20,36.98M401.20,35.25L401.20,37.55M400.20,35.82L402.20,36.98M402.20,35.82L400.20,36.98" stroke="#1a1a1a" stroke-width="0.72" fill="none"/>
<line x1="389.50" y1="51.70" x2="389.50" y2="118.00" stroke="#222" stroke-width="1.1"/>
<line x1="389.00" y1="117.50" x2="487.00" y2="117.50" stroke="#222" stroke-width="1.2"/>
<line x1="386.00" y1="117.50" x2="389.50" y2="117.50" stroke="#222" stroke-width="1"/>
<text x="384.20" y="120.00" font-size="8.2" text-anchor="end" textLength="10.8" lengthAdjust="spacingAndGlyphs">0.0</text>
<line x1="386.00" y1="101.50" x2="389.50" y2="101.50" stroke="#222" stroke-width="1"/>
<text x="384.20" y="104.15" font-size="8.2" text-anchor="end" textLength="10.8" lengthAdjust="spacingAndGlyphs">0.5</text>
<line x1="386.00" y1="85.50" x2="389.50" y2="85.50" stroke="#222" stroke-width="1"/>
<text x="384.20" y="88.30" font-size="8.2" text-anchor="end" textLength="10.8" lengthAdjust="spacingAndGlyphs">1.0</text>
<line x1="386.00" y1="69.50" x2="389.50" y2="69.50" stroke="#222" stroke-width="1"/>
<text x="384.20" y="72.45" font-size="8.2" text-anchor="end" textLength="10.8" lengthAdjust="spacingAndGlyphs">1.5</text>
<line x1="386.00" y1="53.50" x2="389.50" y2="53.50" stroke="#222" stroke-width="1"/>
<text x="384.20" y="56.60" font-size="8.2" text-anchor="end" textLength="10.8" lengthAdjust="spacingAndGlyphs">2.0</text>
<line x1="389.50" y1="117.50" x2="389.50" y2="120.00" stroke="#222" stroke-width="1"/>
<text x="389.40" y="130.30" font-size="8.2" text-anchor="middle" textLength="4.3" lengthAdjust="spacingAndGlyphs">0</text>
<line x1="421.50" y1="117.50" x2="421.50" y2="120.00" stroke="#222" stroke-width="1"/>
<text x="421.00" y="130.30" font-size="8.2" text-anchor="middle" textLength="8.6" lengthAdjust="spacingAndGlyphs">20</text>
<line x1="452.50" y1="117.50" x2="452.50" y2="120.00" stroke="#222" stroke-width="1"/>
<text x="452.60" y="130.30" font-size="8.2" text-anchor="middle" textLength="8.6" lengthAdjust="spacingAndGlyphs">40</text>
<line x1="484.50" y1="117.50" x2="484.50" y2="120.00" stroke="#222" stroke-width="1"/>
<text x="484.20" y="130.30" font-size="8.2" text-anchor="middle" textLength="8.6" lengthAdjust="spacingAndGlyphs">60</text>
<text x="437.80" y="143.20" font-size="9.4" text-anchor="middle" textLength="66.5" lengthAdjust="spacingAndGlyphs">Day post-transplant</text>
<text x="365.60" y="83.50" font-size="9.4" text-anchor="middle" textLength="59.6" lengthAdjust="spacingAndGlyphs" transform="rotate(-90 365.60 83.50)">Skin clinical score</text>
<path d="M389.40,117.10 L400.46,117.10 L411.52,117.10 L422.58,111.71 L433.64,107.59 L444.70,113.30 L455.76,105.69 L466.82,109.49 L477.88,112.03" stroke="#E8901C" stroke-width="1.0" fill="none" stroke-dasharray="1.4,1.8"/>
<line x1="422.58" y1="113.30" x2="422.58" y2="110.13" stroke="#E8901C" stroke-width="0.9"/>
<line x1="421.28" y1="110.13" x2="423.88" y2="110.13" stroke="#E8901C" stroke-width="0.9"/>
<line x1="421.28" y1="113.30" x2="423.88" y2="113.30" stroke="#E8901C" stroke-width="0.9"/>
<line x1="433.64" y1="110.13" x2="433.64" y2="105.05" stroke="#E8901C" stroke-width="0.9"/>
<line x1="432.34" y1="105.05" x2="434.94" y2="105.05" stroke="#E8901C" stroke-width="0.9"/>
<line x1="432.34" y1="110.13" x2="434.94" y2="110.13" stroke="#E8901C" stroke-width="0.9"/>
<line x1="444.70" y1="114.88" x2="444.70" y2="111.71" stroke="#E8901C" stroke-width="0.9"/>
<line x1="443.40" y1="111.71" x2="446.00" y2="111.71" stroke="#E8901C" stroke-width="0.9"/>
<line x1="443.40" y1="114.88" x2="446.00" y2="114.88" stroke="#E8901C" stroke-width="0.9"/>
<line x1="455.76" y1="109.49" x2="455.76" y2="101.88" stroke="#E8901C" stroke-width="0.9"/>
<line x1="454.46" y1="101.88" x2="457.06" y2="101.88" stroke="#E8901C" stroke-width="0.9"/>
<line x1="454.46" y1="109.49" x2="457.06" y2="109.49" stroke="#E8901C" stroke-width="0.9"/>
<line x1="466.82" y1="112.66" x2="466.82" y2="106.32" stroke="#E8901C" stroke-width="0.9"/>
<line x1="465.52" y1="106.32" x2="468.12" y2="106.32" stroke="#E8901C" stroke-width="0.9"/>
<line x1="465.52" y1="112.66" x2="468.12" y2="112.66" stroke="#E8901C" stroke-width="0.9"/>
<line x1="477.88" y1="114.56" x2="477.88" y2="109.49" stroke="#E8901C" stroke-width="0.9"/>
<line x1="476.58" y1="109.49" x2="479.18" y2="109.49" stroke="#E8901C" stroke-width="0.9"/>
<line x1="476.58" y1="114.56" x2="479.18" y2="114.56" stroke="#E8901C" stroke-width="0.9"/>
<circle cx="389.40" cy="117.10" r="1.7" fill="#fff" stroke="#E8901C" stroke-width="0.9"/>
<circle cx="400.46" cy="117.10" r="1.7" fill="#fff" stroke="#E8901C" stroke-width="0.9"/>
<circle cx="411.52" cy="117.10" r="1.7" fill="#fff" stroke="#E8901C" stroke-width="0.9"/>
<circle cx="422.58" cy="111.71" r="1.7" fill="#fff" stroke="#E8901C" stroke-width="0.9"/>
<circle cx="433.64" cy="107.59" r="1.7" fill="#fff" stroke="#E8901C" stroke-width="0.9"/>
<circle cx="444.70" cy="113.30" r="1.7" fill="#fff" stroke="#E8901C" stroke-width="0.9"/>
<circle cx="455.76" cy="105.69" r="1.7" fill="#fff" stroke="#E8901C" stroke-width="0.9"/>
<circle cx="466.82" cy="109.49" r="1.7" fill="#fff" stroke="#E8901C" stroke-width="0.9"/>
<circle cx="477.88" cy="112.03" r="1.7" fill="#fff" stroke="#E8901C" stroke-width="0.9"/>
<path d="M389.40,117.10 L400.46,117.10 L411.52,113.93 L422.58,101.88 L433.64,99.03 L444.70,104.42 L455.76,101.25 L466.82,117.10 L477.88,117.10" stroke="#5AAE45" stroke-width="1.0" fill="none" stroke-dasharray="1.4,1.8"/>
<line x1="411.52" y1="117.10" x2="411.52" y2="110.76" stroke="#5AAE45" stroke-width="0.9"/>
<line x1="410.22" y1="110.76" x2="412.82" y2="110.76" stroke="#5AAE45" stroke-width="0.9"/>
<line x1="410.22" y1="117.10" x2="412.82" y2="117.10" stroke="#5AAE45" stroke-width="0.9"/>
<line x1="422.58" y1="105.05" x2="422.58" y2="98.71" stroke="#5AAE45" stroke-width="0.9"/>
<line x1="421.28" y1="98.71" x2="423.88" y2="98.71" stroke="#5AAE45" stroke-width="0.9"/>
<line x1="421.28" y1="105.05" x2="423.88" y2="105.05" stroke="#5AAE45" stroke-width="0.9"/>
<line x1="433.64" y1="102.83" x2="433.64" y2="95.23" stroke="#5AAE45" stroke-width="0.9"/>
<line x1="432.34" y1="95.23" x2="434.94" y2="95.23" stroke="#5AAE45" stroke-width="0.9"/>
<line x1="432.34" y1="102.83" x2="434.94" y2="102.83" stroke="#5AAE45" stroke-width="0.9"/>
<line x1="444.70" y1="108.22" x2="444.70" y2="100.62" stroke="#5AAE45" stroke-width="0.9"/>
<line x1="443.40" y1="100.62" x2="446.00" y2="100.62" stroke="#5AAE45" stroke-width="0.9"/>
<line x1="443.40" y1="108.22" x2="446.00" y2="108.22" stroke="#5AAE45" stroke-width="0.9"/>
<line x1="455.76" y1="104.42" x2="455.76" y2="98.08" stroke="#5AAE45" stroke-width="0.9"/>
<line x1="454.46" y1="98.08" x2="457.06" y2="98.08" stroke="#5AAE45" stroke-width="0.9"/>
<line x1="454.46" y1="104.42" x2="457.06" y2="104.42" stroke="#5AAE45" stroke-width="0.9"/>
<line x1="466.82" y1="117.10" x2="466.82" y2="101.25" stroke="#5AAE45" stroke-width="0.9"/>
<line x1="465.52" y1="101.25" x2="468.12" y2="101.25" stroke="#5AAE45" stroke-width="0.9"/>
<circle cx="389.40" cy="117.10" r="1.7" fill="#fff" stroke="#5AAE45" stroke-width="0.9"/>
<circle cx="400.46" cy="117.10" r="1.7" fill="#fff" stroke="#5AAE45" stroke-width="0.9"/>
<circle cx="411.52" cy="113.93" r="1.7" fill="#fff" stroke="#5AAE45" stroke-width="0.9"/>
<circle cx="422.58" cy="101.88" r="1.7" fill="#fff" stroke="#5AAE45" stroke-width="0.9"/>
<circle cx="433.64" cy="99.03" r="1.7" fill="#fff" stroke="#5AAE45" stroke-width="0.9"/>
<circle cx="444.70" cy="104.42" r="1.7" fill="#fff" stroke="#5AAE45" stroke-width="0.9"/>
<circle cx="455.76" cy="101.25" r="1.7" fill="#fff" stroke="#5AAE45" stroke-width="0.9"/>
<circle cx="466.82" cy="117.10" r="1.7" fill="#fff" stroke="#5AAE45" stroke-width="0.9"/>
<circle cx="477.88" cy="117.10" r="1.7" fill="#fff" stroke="#5AAE45" stroke-width="0.9"/>
<path d="M389.40,117.10 L400.46,115.52 L411.52,102.83 L422.58,75.89" stroke="#5AAE45" stroke-width="1.1" fill="none"/>
<line x1="400.46" y1="116.47" x2="400.46" y2="114.56" stroke="#5AAE45" stroke-width="0.9"/>
<line x1="399.16" y1="114.56" x2="401.76" y2="114.56" stroke="#5AAE45" stroke-width="0.9"/>
<line x1="399.16" y1="116.47" x2="401.76" y2="116.47" stroke="#5AAE45" stroke-width="0.9"/>
<line x1="411.52" y1="106.00" x2="411.52" y2="99.66" stroke="#5AAE45" stroke-width="0.9"/>
<line x1="410.22" y1="99.66" x2="412.82" y2="99.66" stroke="#5AAE45" stroke-width="0.9"/>
<line x1="410.22" y1="106.00" x2="412.82" y2="106.00" stroke="#5AAE45" stroke-width="0.9"/>
<line x1="422.58" y1="81.60" x2="422.58" y2="70.18" stroke="#5AAE45" stroke-width="0.9"/>
<line x1="421.28" y1="70.18" x2="423.88" y2="70.18" stroke="#5AAE45" stroke-width="0.9"/>
<line x1="421.28" y1="81.60" x2="423.88" y2="81.60" stroke="#5AAE45" stroke-width="0.9"/>
<circle cx="389.40" cy="117.10" r="1.6" fill="#5AAE45" stroke="none" stroke-width="1"/>
<circle cx="400.46" cy="115.52" r="1.6" fill="#5AAE45" stroke="none" stroke-width="1"/>
<circle cx="411.52" cy="102.83" r="1.6" fill="#5AAE45" stroke="none" stroke-width="1"/>
<circle cx="422.58" cy="75.89" r="1.6" fill="#5AAE45" stroke="none" stroke-width="1"/>
<path d="M389.40,117.10 L400.46,117.10 L411.52,109.17 L422.58,95.54 L433.64,95.54 L444.70,96.18 L455.76,98.71" stroke="#E8901C" stroke-width="1.1" fill="none"/>
<line x1="411.52" y1="111.39" x2="411.52" y2="106.96" stroke="#E8901C" stroke-width="0.9"/>
<line x1="410.22" y1="106.96" x2="412.82" y2="106.96" stroke="#E8901C" stroke-width="0.9"/>
<line x1="410.22" y1="111.39" x2="412.82" y2="111.39" stroke="#E8901C" stroke-width="0.9"/>
<line x1="422.58" y1="98.71" x2="422.58" y2="92.37" stroke="#E8901C" stroke-width="0.9"/>
<line x1="421.28" y1="92.37" x2="423.88" y2="92.37" stroke="#E8901C" stroke-width="0.9"/>
<line x1="421.28" y1="98.71" x2="423.88" y2="98.71" stroke="#E8901C" stroke-width="0.9"/>
<line x1="433.64" y1="98.08" x2="433.64" y2="93.01" stroke="#E8901C" stroke-width="0.9"/>
<line x1="432.34" y1="93.01" x2="434.94" y2="93.01" stroke="#E8901C" stroke-width="0.9"/>
<line x1="432.34" y1="98.08" x2="434.94" y2="98.08" stroke="#E8901C" stroke-width="0.9"/>
<line x1="444.70" y1="100.62" x2="444.70" y2="91.74" stroke="#E8901C" stroke-width="0.9"/>
<line x1="443.40" y1="91.74" x2="446.00" y2="91.74" stroke="#E8901C" stroke-width="0.9"/>
<line x1="443.40" y1="100.62" x2="446.00" y2="100.62" stroke="#E8901C" stroke-width="0.9"/>
<line x1="455.76" y1="101.88" x2="455.76" y2="95.54" stroke="#E8901C" stroke-width="0.9"/>
<line x1="454.46" y1="95.54" x2="457.06" y2="95.54" stroke="#E8901C" stroke-width="0.9"/>
<line x1="454.46" y1="101.88" x2="457.06" y2="101.88" stroke="#E8901C" stroke-width="0.9"/>
<circle cx="389.40" cy="117.10" r="1.6" fill="#E8901C" stroke="none" stroke-width="1"/>
<circle cx="400.46" cy="117.10" r="1.6" fill="#E8901C" stroke="none" stroke-width="1"/>
<circle cx="411.52" cy="109.17" r="1.6" fill="#E8901C" stroke="none" stroke-width="1"/>
<circle cx="422.58" cy="95.54" r="1.6" fill="#E8901C" stroke="none" stroke-width="1"/>
<circle cx="433.64" cy="95.54" r="1.6" fill="#E8901C" stroke="none" stroke-width="1"/>
<circle cx="444.70" cy="96.18" r="1.6" fill="#E8901C" stroke="none" stroke-width="1"/>
<circle cx="455.76" cy="98.71" r="1.6" fill="#E8901C" stroke="none" stroke-width="1"/>
<path d="M422.58,65.35L422.58,67.65M421.58,65.92L423.58,67.08M423.58,65.92L421.58,67.08" stroke="#1a1a1a" stroke-width="0.72" fill="none"/>
<text x="9.40" y="172.00" font-size="12" font-weight="bold" fill="#111" stroke="#111">D</text>
<text x="80.10" y="177.70" font-size="7.9" textLength="37.3" lengthAdjust="spacingAndGlyphs">Balb/c.WT</text>
<line x1="120.30" y1="175.50" x2="125.60" y2="175.50" stroke="#333" stroke-width="0.75"/>
<path d="M127.90,175.50 L125.30,174.15 L125.30,176.85 Z" stroke="none" stroke-width="1" fill="#333"/>
<text x="91.90" y="187.60" font-size="7.9" textLength="23.7" lengthAdjust="spacingAndGlyphs">B6.WT</text>
<text x="166.90" y="177.70" font-size="7.9" textLength="37.3" lengthAdjust="spacingAndGlyphs">Balb/c.WT</text>
<line x1="207.10" y1="175.50" x2="212.40" y2="175.50" stroke="#333" stroke-width="0.75"/>
<path d="M214.70,175.50 L212.10,174.15 L212.10,176.85 Z" stroke="none" stroke-width="1" fill="#333"/>
<text x="173.00" y="187.60" font-size="7.9" textLength="35.8" lengthAdjust="spacingAndGlyphs">sgp130Fc</text>
<text x="249.10" y="177.70" font-size="7.9" textLength="43.1" lengthAdjust="spacingAndGlyphs">Balb/c.IL-22</text>
<text x="292.70" y="174.70" font-size="4.6" textLength="5.1" lengthAdjust="spacingAndGlyphs" stroke-width="0.08">-/-</text>
<line x1="301.20" y1="175.50" x2="306.30" y2="175.50" stroke="#333" stroke-width="0.75"/>
<path d="M308.60,175.50 L306.00,174.15 L306.00,176.85 Z" stroke="none" stroke-width="1" fill="#333"/>
<text x="267.10" y="187.60" font-size="7.9" textLength="23.3" lengthAdjust="spacingAndGlyphs">B6.WT</text>
<text x="336.00" y="177.70" font-size="7.9" textLength="43.1" lengthAdjust="spacingAndGlyphs">Balb/c.IL-22</text>
<text x="379.60" y="174.70" font-size="4.6" textLength="5.1" lengthAdjust="spacingAndGlyphs" stroke-width="0.08">-/-</text>
<line x1="388.10" y1="175.50" x2="393.20" y2="175.50" stroke="#333" stroke-width="0.75"/>
<path d="M395.50,175.50 L392.90,174.15 L392.90,176.85 Z" stroke="none" stroke-width="1" fill="#333"/>
<text x="347.50" y="187.60" font-size="7.9" textLength="36.5" lengthAdjust="spacingAndGlyphs">sgp130Fc</text>
<g clip-path="url(#hc0)">
<rect x="59.00" y="192.70" width="85.80" height="64.40" fill="#fcfafd"/><rect x="59.00" y="220.70" width="85.80" height="36.40" fill="#f6f0f9"/><rect x="59.00" y="218.70" width="85.80" height="38.40" filter="url(#fLace1)"/><mask id="mD1" maskUnits="userSpaceOnUse" x="57.0" y="190.7" width="89.80000000000001" height="68.40000000000003"><path d="M57.00,194.70 C58.50,194.65 63.10,194.48 66.00,194.40 C68.90,194.32 72.15,193.55 74.40,194.20 C76.65,194.85 77.80,196.77 79.50,198.30 C81.20,199.83 82.85,201.92 84.60,203.40 C86.35,204.88 88.28,207.32 90.00,207.20 C91.72,207.08 93.12,204.30 94.90,202.70 C96.68,201.10 99.02,198.70 100.70,197.60 C102.38,196.50 103.67,195.87 105.00,196.10 C106.33,196.33 107.70,197.65 108.70,199.00 C109.70,200.35 110.13,203.47 111.00,204.20 C111.87,204.93 112.70,204.38 113.90,203.40 C115.10,202.42 116.52,199.52 118.20,198.30 C119.88,197.08 121.80,196.70 124.00,196.10 C126.20,195.50 128.73,195.02 131.40,194.70 C134.07,194.38 137.40,194.32 140.00,194.20 C142.60,194.08 145.83,194.03 147.00,194.00 L147.00,222.50 C145.50,222.75 141.17,223.33 138.00,224.00 C134.83,224.67 131.33,225.67 128.00,226.50 C124.67,227.33 121.33,228.25 118.00,229.00 C114.67,229.75 111.33,230.58 108.00,231.00 C104.67,231.42 101.33,231.58 98.00,231.50 C94.67,231.42 91.33,230.50 88.00,230.50 C84.67,230.50 81.33,231.50 78.00,231.50 C74.67,231.50 71.50,230.58 68.00,230.50 C64.50,230.42 58.83,230.92 57.00,231.00 Z" fill="#fff" filter="url(#fSoft)"/></mask><g mask="url(#mD1)"><rect x="59.00" y="192.70" width="85.80" height="45.00" filter="url(#fD1)"/></g><path d="M57.00,194.70 C58.50,194.65 63.10,194.48 66.00,194.40 C68.90,194.32 72.15,193.55 74.40,194.20 C76.65,194.85 77.80,196.77 79.50,198.30 C81.20,199.83 82.85,201.92 84.60,203.40 C86.35,204.88 88.28,207.32 90.00,207.20 C91.72,207.08 93.12,204.30 94.90,202.70 C96.68,201.10 99.02,198.70 100.70,197.60 C102.38,196.50 103.67,195.87 105.00,196.10 C106.33,196.33 107.70,197.65 108.70,199.00 C109.70,200.35 110.13,203.47 111.00,204.20 C111.87,204.93 112.70,204.38 113.90,203.40 C115.10,202.42 116.52,199.52 118.20,198.30 C119.88,197.08 121.80,196.70 124.00,196.10 C126.20,195.50 128.73,195.02 131.40,194.70 C134.07,194.38 137.40,194.32 140.00,194.20 C142.60,194.08 145.83,194.03 147.00,194.00" fill="none" stroke="#55287a" stroke-width="1.5"/><ellipse cx="77.8" cy="214.5" rx="2.8" ry="5.2" fill="#7a3c98" transform="rotate(25 77.8 214.5)"/><ellipse cx="77.8" cy="214.5" rx="0.8" ry="3.2" fill="#f4eef8" transform="rotate(25 77.8 214.5)"/><path d="M111,204 L112,216" stroke="#6a3490" stroke-width="2.6"/><path d="M116,200 L116.3,211" stroke="#f6f0f9" stroke-width="1.2"/><path d="M90,207 L91,214" stroke="#5a2a80" stroke-width="1.4"/><ellipse cx="72" cy="254" rx="3" ry="1.6" fill="#8a2a78" opacity="0.85"/><ellipse cx="86" cy="255" rx="2.5" ry="1.4" fill="#8a2a78" opacity="0.85"/><ellipse cx="110" cy="253" rx="3" ry="2" fill="#8a2a78" opacity="0.85"/><ellipse cx="118" cy="255" rx="2.2" ry="1.5" fill="#8a2a78" opacity="0.85"/><ellipse cx="132" cy="254" rx="2" ry="1.6" fill="#8a2a78" opacity="0.85"/><ellipse cx="138" cy="245" rx="1.5" ry="1.5" fill="#8a2a78" opacity="0.85"/><ellipse cx="74" cy="238" rx="1.2" ry="2.2" fill="#8a2a78" opacity="0.85"/><ellipse cx="66" cy="250" rx="1.5" ry="1.2" fill="#8a2a78" opacity="0.85"/>
</g>
<rect x="59.00" y="192.70" width="85.80" height="64.40" fill="none" stroke="#8a8a8a" stroke-width="1"/>
<g clip-path="url(#hc1)">
<rect x="147.30" y="192.70" width="85.40" height="64.40" filter="url(#fD2)"/><path d="M175,205 L232.7,200 L232.7,235 L195,226 Z" fill="#d080d0" opacity="0.28"/><mask id="mF2" maskUnits="userSpaceOnUse" x="146" y="192" width="88" height="66"><rect x="146" y="192" width="88" height="66" fill="#000"/><ellipse cx="178" cy="228" rx="34" ry="26" fill="url(#rgF2)" transform="rotate(30 178 228)"/><ellipse cx="219" cy="239" rx="11" ry="8" fill="url(#rgF2)"/><ellipse cx="153" cy="240" rx="10" ry="18" fill="url(#rgF2)"/></mask><g mask="url(#mF2)"><rect x="147.30" y="192.70" width="85.40" height="64.40" fill="#d2b0e0" opacity="0.55"/><rect x="147.30" y="192.70" width="85.40" height="64.40" filter="url(#fBlob)" opacity="0.9"/></g><path d="M168.00,192.00 C169.00,192.50 171.67,194.00 174.00,195.00 C176.33,196.00 179.00,196.92 182.00,198.00 C185.00,199.08 188.67,200.50 192.00,201.50 C195.33,202.50 198.33,203.17 202.00,204.00 C205.67,204.83 210.00,205.92 214.00,206.50 C218.00,207.08 222.67,207.25 226.00,207.50 C229.33,207.75 232.67,207.92 234.00,208.00 L234,192 Z" fill="#6c3a92"/><path d="M198.00,204.00 C199.33,203.58 203.33,202.08 206.00,201.50 C208.67,200.92 211.00,200.92 214.00,200.50 C217.00,200.08 221.00,199.58 224.00,199.00 C227.00,198.42 230.67,197.33 232.00,197.00" stroke="#ece2f4" stroke-width="1.4" fill="none"/><path d="M204.00,198.00 C205.33,197.75 209.33,196.58 212.00,196.50 C214.67,196.42 217.33,197.75 220.00,197.50 C222.67,197.25 226.67,195.42 228.00,195.00" stroke="#dccbe8" stroke-width="0.9" fill="none"/><path d="M147,194 L178,195.5" stroke="#f0e6f6" stroke-width="1.3"/><path d="M147,192.7 L234,192.7" stroke="#5a2a7a" stroke-width="1.2"/><path d="M166.00,245.00 C166.67,244.58 168.67,242.92 170.00,242.50 C171.33,242.08 172.83,241.92 174.00,242.50 C175.17,243.08 176.50,245.42 177.00,246.00" stroke="#9a2058" stroke-width="2" fill="none"/><path d="M166,255 L206,255.5" stroke="#8a3aa0" stroke-width="1.2"/>
</g>
<rect x="147.30" y="192.70" width="85.40" height="64.40" fill="none" stroke="#8a8a8a" stroke-width="1"/>
<g clip-path="url(#hc2)">
<rect x="234.60" y="192.70" width="85.60" height="64.40" fill="#fcfafd"/><rect x="234.60" y="228.70" width="85.60" height="28.40" fill="#f6eff9"/><rect x="234.60" y="226.70" width="85.60" height="30.40" filter="url(#fLace3)"/><mask id="mD3" maskUnits="userSpaceOnUse" x="232.6" y="190.7" width="89.6" height="68.40000000000003"><path d="M233.00,205.00 C233.67,205.33 235.67,206.42 237.00,207.00 C238.33,207.58 239.67,208.50 241.00,208.50 C242.33,208.50 243.67,208.08 245.00,207.00 C246.33,205.92 247.67,203.17 249.00,202.00 C250.33,200.83 251.50,200.08 253.00,200.00 C254.50,199.92 256.50,201.33 258.00,201.50 C259.50,201.67 260.67,200.75 262.00,201.00 C263.33,201.25 265.00,201.83 266.00,203.00 C267.00,204.17 267.17,206.25 268.00,208.00 C268.83,209.75 270.00,213.17 271.00,213.50 C272.00,213.83 273.00,211.92 274.00,210.00 C275.00,208.08 275.83,204.08 277.00,202.00 C278.17,199.92 279.50,198.50 281.00,197.50 C282.50,196.50 284.17,196.08 286.00,196.00 C287.83,195.92 290.17,197.00 292.00,197.00 C293.83,197.00 295.50,196.08 297.00,196.00 C298.50,195.92 300.00,195.83 301.00,196.50 C302.00,197.17 302.33,198.83 303.00,200.00 C303.67,201.17 304.17,202.67 305.00,203.50 C305.83,204.33 307.00,205.25 308.00,205.00 C309.00,204.75 310.00,203.00 311.00,202.00 C312.00,201.00 312.83,199.58 314.00,199.00 C315.17,198.42 316.67,198.50 318.00,198.50 C319.33,198.50 321.33,198.92 322.00,199.00 L322.00,230.00 C320.33,230.25 315.67,231.42 312.00,231.50 C308.33,231.58 304.00,230.42 300.00,230.50 C296.00,230.58 291.67,231.50 288.00,232.00 C284.33,232.50 281.67,233.42 278.00,233.50 C274.33,233.58 269.67,232.58 266.00,232.50 C262.33,232.42 259.33,232.75 256.00,233.00 C252.67,233.25 249.83,234.00 246.00,234.00 C242.17,234.00 235.17,233.17 233.00,233.00 Z" fill="#fff" filter="url(#fSoft)"/></mask><g mask="url(#mD3)"><rect x="234.60" y="192.70" width="85.60" height="47.00" filter="url(#fD3)"/></g><path d="M233.00,205.00 C233.67,205.33 235.67,206.42 237.00,207.00 C238.33,207.58 239.67,208.50 241.00,208.50 C242.33,208.50 243.67,208.08 245.00,207.00 C246.33,205.92 247.67,203.17 249.00,202.00 C250.33,200.83 251.50,200.08 253.00,200.00 C254.50,199.92 256.50,201.33 258.00,201.50 C259.50,201.67 260.67,200.75 262.00,201.00 C263.33,201.25 265.00,201.83 266.00,203.00 C267.00,204.17 267.17,206.25 268.00,208.00 C268.83,209.75 270.00,213.17 271.00,213.50 C272.00,213.83 273.00,211.92 274.00,210.00 C275.00,208.08 275.83,204.08 277.00,202.00 C278.17,199.92 279.50,198.50 281.00,197.50 C282.50,196.50 284.17,196.08 286.00,196.00 C287.83,195.92 290.17,197.00 292.00,197.00 C293.83,197.00 295.50,196.08 297.00,196.00 C298.50,195.92 300.00,195.83 301.00,196.50 C302.00,197.17 302.33,198.83 303.00,200.00 C303.67,201.17 304.17,202.67 305.00,203.50 C305.83,204.33 307.00,205.25 308.00,205.00 C309.00,204.75 310.00,203.00 311.00,202.00 C312.00,201.00 312.83,199.58 314.00,199.00 C315.17,198.42 316.67,198.50 318.00,198.50 C319.33,198.50 321.33,198.92 322.00,199.00" fill="none" stroke="#55287a" stroke-width="1.5"/><ellipse cx="252" cy="220" rx="3.5" ry="5" fill="#7a3c9a" opacity="0.75"/><ellipse cx="273.5" cy="220" rx="1.6" ry="4.5" fill="#f5eef8"/><ellipse cx="244" cy="216" rx="1.1" ry="3.5" fill="#f5eef8"/><ellipse cx="308" cy="240" rx="5" ry="2" fill="#8a48a6" opacity="0.7"/>
</g>
<rect x="234.60" y="192.70" width="85.60" height="64.40" fill="none" stroke="#8a8a8a" stroke-width="1"/>
<g clip-path="url(#hc3)">
<rect x="322.70" y="192.70" width="86.00" height="64.40" fill="#fcfafd"/><rect x="322.70" y="232.70" width="86.00" height="24.40" fill="#f6eff9"/><rect x="322.70" y="230.70" width="86.00" height="26.40" filter="url(#fLace4)"/><mask id="mD4" maskUnits="userSpaceOnUse" x="320.7" y="190.7" width="90.0" height="68.40000000000003"><path d="M321.00,199.00 C322.50,198.97 326.83,198.92 330.00,198.80 C333.17,198.68 336.67,198.33 340.00,198.30 C343.33,198.27 347.33,198.45 350.00,198.60 C352.67,198.75 354.00,198.80 356.00,199.20 C358.00,199.60 360.33,200.37 362.00,201.00 C363.67,201.63 364.67,203.00 366.00,203.00 C367.33,203.00 368.67,201.58 370.00,201.00 C371.33,200.42 372.33,199.83 374.00,199.50 C375.67,199.17 377.67,199.00 380.00,199.00 C382.33,199.00 385.67,199.53 388.00,199.50 C390.33,199.47 392.00,198.80 394.00,198.80 C396.00,198.80 397.33,199.30 400.00,199.50 C402.67,199.70 408.33,199.92 410.00,200.00 L410.00,233.00 C408.00,233.33 402.17,234.92 398.00,235.00 C393.83,235.08 389.33,233.42 385.00,233.50 C380.67,233.58 376.17,235.25 372.00,235.50 C367.83,235.75 364.00,234.92 360.00,235.00 C356.00,235.08 352.17,235.92 348.00,236.00 C343.83,236.08 339.50,235.50 335.00,235.50 C330.50,235.50 323.33,235.92 321.00,236.00 Z" fill="#fff" filter="url(#fSoft)"/></mask><g mask="url(#mD4)"><rect x="322.70" y="192.70" width="86.00" height="49.00" filter="url(#fD4)"/></g><path d="M321.00,199.00 C322.50,198.97 326.83,198.92 330.00,198.80 C333.17,198.68 336.67,198.33 340.00,198.30 C343.33,198.27 347.33,198.45 350.00,198.60 C352.67,198.75 354.00,198.80 356.00,199.20 C358.00,199.60 360.33,200.37 362.00,201.00 C363.67,201.63 364.67,203.00 366.00,203.00 C367.33,203.00 368.67,201.58 370.00,201.00 C371.33,200.42 372.33,199.83 374.00,199.50 C375.67,199.17 377.67,199.00 380.00,199.00 C382.33,199.00 385.67,199.53 388.00,199.50 C390.33,199.47 392.00,198.80 394.00,198.80 C396.00,198.80 397.33,199.30 400.00,199.50 C402.67,199.70 408.33,199.92 410.00,200.00" fill="none" stroke="#48206c" stroke-width="2.4"/><ellipse cx="333" cy="205.5" rx="4" ry="1.8" fill="none" stroke="#6a3090" stroke-width="1.2"/><ellipse cx="350" cy="230" rx="1.8" ry="3.5" fill="#6a3090"/><ellipse cx="391" cy="229" rx="1.8" ry="3.5" fill="#6a3090"/><ellipse cx="395" cy="228" rx="1.8" ry="3.5" fill="#6a3090"/><ellipse cx="359" cy="251.5" rx="5.2" ry="1.7" fill="#8a2a82" transform="rotate(-6 359 251.5)"/><ellipse cx="371" cy="250.5" rx="6" ry="1.8" fill="#8a2a82" transform="rotate(-6 371 250.5)"/><ellipse cx="383" cy="249.5" rx="5.5" ry="1.8" fill="#8a2a82" transform="rotate(-6 383 249.5)"/><ellipse cx="395" cy="248.5" rx="5.5" ry="1.8" fill="#8a2a82" transform="rotate(-6 395 248.5)"/><ellipse cx="405.5" cy="247.5" rx="4" ry="1.7" fill="#8a2a82" transform="rotate(-6 405.5 247.5)"/><ellipse cx="336" cy="256" rx="4.5" ry="1.6" fill="#8a2a82" transform="rotate(-4 336 256)"/><ellipse cx="346.5" cy="255.5" rx="4.8" ry="1.6" fill="#8a2a82" transform="rotate(-4 346.5 255.5)"/><ellipse cx="356" cy="255.5" rx="3" ry="1.4" fill="#8a2a82" transform="rotate(-4 356 255.5)"/>
</g>
<rect x="322.70" y="192.70" width="86.00" height="64.40" fill="none" stroke="#8a8a8a" stroke-width="1"/>
<text x="9.40" y="282.80" font-size="12" font-weight="bold" fill="#111" stroke="#111">E</text>
<g transform="translate(61.90,329.30)"><path d="M0.2,-11 C-2,-13.6 -5,-14.6 -7.6,-14.1 C-10.5,-13.4 -12.5,-10.6 -15,-9.6 C-15.8,-9.3 -16.6,-9.5 -17.2,-9.9" stroke="#222" stroke-width="1.25" fill="none" stroke-linecap="round"/><circle cx="0" cy="-1.9" r="9.1" fill="#424242" stroke="#111" stroke-width="0.4"/><path d="M-8.6,0.6 C-7.6,5 -3.2,10.2 0,10.9 C3.2,10.2 7.6,5 8.6,0.6 Z" fill="#424242" stroke="#111" stroke-width="0.4"/><ellipse cx="-5.8" cy="1.6" rx="3.7" ry="2.5" fill="#404040" transform="rotate(-8 -5.8 1.6)"/><ellipse cx="5.8" cy="1.6" rx="3.7" ry="2.5" fill="#404040" transform="rotate(8 5.8 1.6)"/><path d="M-9.4,1.8 C-8.8,-1.2 -4.4,-1.6 -2.4,0.8" stroke="#111" stroke-width="1.2" fill="none"/><path d="M9.4,1.8 C8.8,-1.2 4.4,-1.6 2.4,0.8" stroke="#111" stroke-width="1.2" fill="none"/><circle cx="-2.6" cy="5.9" r="0.85" fill="#2a2a2a"/><circle cx="2.6" cy="5.9" r="0.85" fill="#2a2a2a"/><circle cx="0" cy="10.1" r="0.95" fill="#111"/><path d="M-3,8.6 L-6.6,7.8 M-3,9 L-6.8,10.2 M-2.8,9.4 L-5.4,11.8 M3,8.6 L6.6,7.8 M3,9 L6.8,10.2 M2.8,9.4 L5.4,11.8" stroke="#c4c4c4" stroke-width="0.45"/></g>
<g transform="translate(61.90,370.00)"><path d="M0.2,-11 C-2,-13.6 -5,-14.6 -7.6,-14.1 C-10.5,-13.4 -12.5,-10.6 -15,-9.6 C-15.8,-9.3 -16.6,-9.5 -17.2,-9.9" stroke="#222" stroke-width="1.25" fill="none" stroke-linecap="round"/><circle cx="0" cy="-1.9" r="9.1" fill="#424242" stroke="#111" stroke-width="0.4"/><path d="M-8.6,0.6 C-7.6,5 -3.2,10.2 0,10.9 C3.2,10.2 7.6,5 8.6,0.6 Z" fill="#424242" stroke="#111" stroke-width="0.4"/><ellipse cx="-5.8" cy="1.6" rx="3.7" ry="2.5" fill="#404040" transform="rotate(-8 -5.8 1.6)"/><ellipse cx="5.8" cy="1.6" rx="3.7" ry="2.5" fill="#404040" transform="rotate(8 5.8 1.6)"/><path d="M-9.4,1.8 C-8.8,-1.2 -4.4,-1.6 -2.4,0.8" stroke="#111" stroke-width="1.2" fill="none"/><path d="M9.4,1.8 C8.8,-1.2 4.4,-1.6 2.4,0.8" stroke="#111" stroke-width="1.2" fill="none"/><circle cx="-2.6" cy="5.9" r="0.85" fill="#2a2a2a"/><circle cx="2.6" cy="5.9" r="0.85" fill="#2a2a2a"/><circle cx="0" cy="10.1" r="0.95" fill="#111"/><path d="M-3,8.6 L-6.6,7.8 M-3,9 L-6.8,10.2 M-2.8,9.4 L-5.4,11.8 M3,8.6 L6.6,7.8 M3,9 L6.8,10.2 M2.8,9.4 L5.4,11.8" stroke="#c4c4c4" stroke-width="0.45"/></g>
<g transform="translate(149.50,329.20)"><path d="M0.2,-11 C-2,-13.6 -5,-14.6 -7.6,-14.1 C-10.5,-13.4 -12.5,-10.6 -15,-9.6 C-15.8,-9.3 -16.6,-9.5 -17.2,-9.9" stroke="#6a6a6a" stroke-width="1.25" fill="none" stroke-linecap="round"/><circle cx="0" cy="-1.9" r="9.1" fill="#7c7c7c" stroke="#4a4a4a" stroke-width="0.4"/><path d="M-8.6,0.6 C-7.6,5 -3.2,10.2 0,10.9 C3.2,10.2 7.6,5 8.6,0.6 Z" fill="#7c7c7c" stroke="#4a4a4a" stroke-width="0.4"/><ellipse cx="-5.8" cy="1.6" rx="3.7" ry="2.5" fill="#cdcdcd" transform="rotate(-8 -5.8 1.6)"/><ellipse cx="5.8" cy="1.6" rx="3.7" ry="2.5" fill="#cdcdcd" transform="rotate(8 5.8 1.6)"/><path d="M-9.4,1.8 C-8.8,-1.2 -4.4,-1.6 -2.4,0.8" stroke="#4a4a4a" stroke-width="1.2" fill="none"/><path d="M9.4,1.8 C8.8,-1.2 4.4,-1.6 2.4,0.8" stroke="#4a4a4a" stroke-width="1.2" fill="none"/><circle cx="-2.6" cy="5.9" r="0.85" fill="#333"/><circle cx="2.6" cy="5.9" r="0.85" fill="#333"/><circle cx="0" cy="10.1" r="0.95" fill="#111"/><path d="M-3,8.6 L-6.6,7.8 M-3,9 L-6.8,10.2 M-2.8,9.4 L-5.4,11.8 M3,8.6 L6.6,7.8 M3,9 L6.8,10.2 M2.8,9.4 L5.4,11.8" stroke="#c4c4c4" stroke-width="0.45"/></g>
<g transform="translate(149.50,370.40)"><path d="M0.2,-11 C-2,-13.6 -5,-14.6 -7.6,-14.1 C-10.5,-13.4 -12.5,-10.6 -15,-9.6 C-15.8,-9.3 -16.6,-9.5 -17.2,-9.9" stroke="#6a6a6a" stroke-width="1.25" fill="none" stroke-linecap="round"/><circle cx="0" cy="-1.9" r="9.1" fill="#7c7c7c" stroke="#4a4a4a" stroke-width="0.4"/><path d="M-8.6,0.6 C-7.6,5 -3.2,10.2 0,10.9 C3.2,10.2 7.6,5 8.6,0.6 Z" fill="#7c7c7c" stroke="#4a4a4a" stroke-width="0.4"/><ellipse cx="-5.8" cy="1.6" rx="3.7" ry="2.5" fill="#cdcdcd" transform="rotate(-8 -5.8 1.6)"/><ellipse cx="5.8" cy="1.6" rx="3.7" ry="2.5" fill="#cdcdcd" transform="rotate(8 5.8 1.6)"/><path d="M-9.4,1.8 C-8.8,-1.2 -4.4,-1.6 -2.4,0.8" stroke="#4a4a4a" stroke-width="1.2" fill="none"/><path d="M9.4,1.8 C8.8,-1.2 4.4,-1.6 2.4,0.8" stroke="#4a4a4a" stroke-width="1.2" fill="none"/><circle cx="-2.6" cy="5.9" r="0.85" fill="#333"/><circle cx="2.6" cy="5.9" r="0.85" fill="#333"/><circle cx="0" cy="10.1" r="0.95" fill="#111"/><path d="M-3,8.6 L-6.6,7.8 M-3,9 L-6.8,10.2 M-2.8,9.4 L-5.4,11.8 M3,8.6 L6.6,7.8 M3,9 L6.8,10.2 M2.8,9.4 L5.4,11.8" stroke="#c4c4c4" stroke-width="0.45"/></g>
<path d="M129.00,305.60 L132.60,311.20 L131.20,311.70 L134.80,315.80 L135.70,321.80 L132.50,316.50 L133.50,315.90 L129.50,312.60 L130.90,312.00 Z" stroke="#111" stroke-width="0.55" fill="#d9a514"/>
<line x1="132.60" y1="321.20" x2="135.60" y2="321.20" stroke="#222" stroke-width="0.6"/>
<path d="M129.00,345.40 L132.60,351.00 L131.20,351.50 L134.80,355.60 L135.70,361.60 L132.50,356.30 L133.50,355.70 L129.50,352.40 L130.90,351.80 Z" stroke="#111" stroke-width="0.55" fill="#d9a514"/>
<line x1="132.60" y1="361.00" x2="135.60" y2="361.00" stroke="#222" stroke-width="0.6"/>
<line x1="76.30" y1="327.50" x2="121.40" y2="327.50" stroke="#111" stroke-width="1.1"/>
<path d="M125.60,327.50 L121.40,329.40 L121.40,325.60 Z" stroke="none" stroke-width="1" fill="#111"/>
<line x1="76.30" y1="338.20" x2="121.28" y2="361.85" stroke="#111" stroke-width="1.1"/>
<path d="M125.00,363.80 L120.40,363.53 L122.17,360.16 Z" stroke="none" stroke-width="1" fill="#111"/>
<line x1="76.30" y1="365.40" x2="121.34" y2="340.06" stroke="#111" stroke-width="1.1"/>
<path d="M125.00,338.00 L122.27,341.72 L120.41,338.40 Z" stroke="none" stroke-width="1" fill="#111"/>
<line x1="76.30" y1="373.50" x2="121.40" y2="373.50" stroke="#111" stroke-width="1.1"/>
<path d="M125.60,373.50 L121.40,375.40 L121.40,371.60 Z" stroke="none" stroke-width="1" fill="#111"/>
<text x="79.60" y="311.00" font-size="8.7" textLength="22.0" lengthAdjust="spacingAndGlyphs">5 x 10</text>
<text x="102.20" y="307.60" font-size="5.0" stroke-width="0.08">6</text>
<text x="106.00" y="311.00" font-size="8.7" textLength="13.5" lengthAdjust="spacingAndGlyphs">BM</text>
<text x="71.00" y="321.20" font-size="8.7" textLength="29.0" lengthAdjust="spacingAndGlyphs">+ 2 x 10</text>
<text x="100.60" y="317.80" font-size="5.0" stroke-width="0.08">6</text>
<text x="104.60" y="321.20" font-size="8.7" textLength="24.2" lengthAdjust="spacingAndGlyphs">T cells</text>
<text x="152.60" y="291.90" font-size="8.7" text-anchor="middle" textLength="10.8" lengthAdjust="spacingAndGlyphs">TBI</text>
<text x="152.50" y="303.00" font-size="8.7" text-anchor="middle" textLength="37.4" lengthAdjust="spacingAndGlyphs">(1100cGy)</text>
<text x="151.90" y="351.30" font-size="8.7" text-anchor="middle" textLength="28.4" lengthAdjust="spacingAndGlyphs">B6D2F1</text>
<text x="152.10" y="393.20" font-size="8.7" text-anchor="middle" textLength="46.9" lengthAdjust="spacingAndGlyphs">sgp130Fc.F1</text>
<text x="17.10" y="352.60" font-size="8.7" textLength="27.2" lengthAdjust="spacingAndGlyphs">CD4cre</text>
<text x="44.80" y="349.60" font-size="5.6" textLength="9.9" lengthAdjust="spacingAndGlyphs" stroke-width="0.08">neg</text>
<text x="57.30" y="352.60" font-size="8.7" textLength="3.6" lengthAdjust="spacingAndGlyphs">x</text>
<text x="63.30" y="352.60" font-size="8.7" textLength="18.2" lengthAdjust="spacingAndGlyphs">IL-6R</text>
<text x="82.00" y="349.00" font-size="5.4" textLength="2.9" lengthAdjust="spacingAndGlyphs" stroke-width="0.08">fl</text>
<text x="29.20" y="395.70" font-size="8.7" textLength="26.3" lengthAdjust="spacingAndGlyphs">CD4cre</text>
<text x="56.20" y="392.70" font-size="5.6" textLength="9.8" lengthAdjust="spacingAndGlyphs" stroke-width="0.08">pos</text>
<text x="69.00" y="395.70" font-size="8.7" textLength="3.6" lengthAdjust="spacingAndGlyphs">x</text>
<text x="74.60" y="395.70" font-size="8.7" textLength="18.1" lengthAdjust="spacingAndGlyphs">IL-6R</text>
<text x="92.70" y="392.10" font-size="5.4" textLength="2.7" lengthAdjust="spacingAndGlyphs" stroke-width="0.08">fl</text>
<text x="193.40" y="282.70" font-size="12" font-weight="bold" fill="#111" stroke="#111">F</text>
<rect x="243.50" y="337.48" width="8.30" height="27.82" fill="#A50F2E"/>
<line x1="247.50" y1="337.48" x2="247.50" y2="335.50" stroke="#222" stroke-width="0.9"/>
<line x1="245.90" y1="335.50" x2="249.10" y2="335.50" stroke="#222" stroke-width="1.0"/>
<rect x="254.90" y="319.62" width="7.80" height="45.68" fill="#A50F2E"/>
<line x1="258.50" y1="319.62" x2="258.50" y2="312.50" stroke="#222" stroke-width="0.9"/>
<line x1="256.90" y1="312.50" x2="260.10" y2="312.50" stroke="#222" stroke-width="1.0"/>
<rect x="265.70" y="360.05" width="7.80" height="5.25" fill="#A50F2E"/>
<line x1="269.50" y1="360.05" x2="269.50" y2="359.50" stroke="#222" stroke-width="0.9"/>
<line x1="267.90" y1="359.50" x2="271.10" y2="359.50" stroke="#222" stroke-width="1.0"/>
<rect x="276.40" y="359.21" width="8.40" height="6.09" fill="#A50F2E"/>
<line x1="280.50" y1="359.21" x2="280.50" y2="357.50" stroke="#222" stroke-width="0.9"/>
<line x1="278.90" y1="357.50" x2="282.10" y2="357.50" stroke="#222" stroke-width="1.0"/>
<line x1="241.50" y1="300.30" x2="241.50" y2="366.00" stroke="#222" stroke-width="1.1"/>
<line x1="241.00" y1="365.50" x2="285.60" y2="365.50" stroke="#222" stroke-width="1.1"/>
<line x1="238.90" y1="365.50" x2="241.90" y2="365.50" stroke="#222" stroke-width="1"/>
<text x="235.80" y="368.40" font-size="9.0" text-anchor="end" textLength="4.7" lengthAdjust="spacingAndGlyphs" style="stroke-width:0.1px">0</text>
<line x1="238.90" y1="344.50" x2="241.90" y2="344.50" stroke="#222" stroke-width="1"/>
<text x="235.80" y="347.40" font-size="9.0" text-anchor="end" textLength="4.7" lengthAdjust="spacingAndGlyphs" style="stroke-width:0.1px">2</text>
<line x1="238.90" y1="323.50" x2="241.90" y2="323.50" stroke="#222" stroke-width="1"/>
<text x="235.80" y="326.40" font-size="9.0" text-anchor="end" textLength="4.7" lengthAdjust="spacingAndGlyphs" style="stroke-width:0.1px">4</text>
<line x1="238.90" y1="302.50" x2="241.90" y2="302.50" stroke="#222" stroke-width="1"/>
<text x="235.80" y="305.40" font-size="9.0" text-anchor="end" textLength="4.7" lengthAdjust="spacingAndGlyphs" style="stroke-width:0.1px">6</text>
<line x1="247.60" y1="365.30" x2="247.60" y2="367.90" stroke="#222" stroke-width="1"/>
<line x1="258.80" y1="365.30" x2="258.80" y2="367.90" stroke="#222" stroke-width="1"/>
<line x1="269.60" y1="365.30" x2="269.60" y2="367.90" stroke="#222" stroke-width="1"/>
<line x1="280.60" y1="365.30" x2="280.60" y2="367.90" stroke="#222" stroke-width="1"/>
<line x1="249.20" y1="307.50" x2="260.80" y2="307.50" stroke="#222" stroke-width="1"/>
<path d="M253.50,303.65L253.50,305.95M252.50,304.23L254.50,305.38M254.50,304.23L252.50,305.38M256.50,303.65L256.50,305.95M255.50,304.23L257.50,305.38M257.50,304.23L255.50,305.38" stroke="#1a1a1a" stroke-width="0.72" fill="none"/>
<line x1="249.20" y1="302.50" x2="271.80" y2="302.50" stroke="#222" stroke-width="1"/>
<path d="M257.50,298.65L257.50,300.95M256.50,299.23L258.50,300.38M258.50,299.23L256.50,300.38M260.50,298.65L260.50,300.95M259.50,299.23L261.50,300.38M261.50,299.23L259.50,300.38M263.50,298.65L263.50,300.95M262.50,299.23L264.50,300.38M264.50,299.23L262.50,300.38" stroke="#1a1a1a" stroke-width="0.72" fill="none"/>
<line x1="249.20" y1="295.50" x2="285.10" y2="295.50" stroke="#222" stroke-width="1"/>
<path d="M264.15,291.65L264.15,293.95M263.15,292.23L265.15,293.38M265.15,292.23L263.15,293.38M267.15,291.65L267.15,293.95M266.15,292.23L268.15,293.38M268.15,292.23L266.15,293.38M270.15,291.65L270.15,293.95M269.15,292.23L271.15,293.38M271.15,292.23L269.15,293.38" stroke="#1a1a1a" stroke-width="0.72" fill="none"/>
<line x1="270.50" y1="349.50" x2="281.60" y2="349.50" stroke="#222" stroke-width="1"/>
<text x="276.05" y="346.90" font-size="6.6" text-anchor="middle">n.s.</text>
<text x="214.00" y="362.20" font-size="8.8" textLength="31.5" lengthAdjust="spacingAndGlyphs" transform="rotate(-90 214.00 362.20)">% of CD4</text>
<text x="210.60" y="330.40" font-size="5.0" textLength="2.8" lengthAdjust="spacingAndGlyphs" transform="rotate(-90 210.60 330.40)" stroke-width="0.08">+</text>
<text x="214.00" y="327.20" font-size="8.8" textLength="24.0" lengthAdjust="spacingAndGlyphs" transform="rotate(-90 214.00 327.20)">T Th22</text>
<text x="226.20" y="329.20" font-size="8.8" text-anchor="middle" textLength="17.4" lengthAdjust="spacingAndGlyphs" transform="rotate(-90 226.20 329.20)">(pLN)</text>
<text x="235.60" y="378.60" font-size="8.6" text-anchor="end" textLength="35.3" lengthAdjust="spacingAndGlyphs">T classical</text>
<text x="235.60" y="390.70" font-size="8.6" text-anchor="end" textLength="18.0" lengthAdjust="spacingAndGlyphs">Trans</text>
<text x="246.70" y="378.40" font-size="7.6" text-anchor="middle">+</text>
<text x="258.10" y="378.40" font-size="7.6" text-anchor="middle">+</text>
<text x="269.30" y="378.40" font-size="7.6" text-anchor="middle">-</text>
<text x="280.50" y="378.40" font-size="7.6" text-anchor="middle">-</text>
<text x="246.70" y="390.50" font-size="7.6" text-anchor="middle">+</text>
<text x="258.10" y="390.50" font-size="7.6" text-anchor="middle">-</text>
<text x="269.30" y="390.50" font-size="7.6" text-anchor="middle">+</text>
<text x="280.50" y="390.50" font-size="7.6" text-anchor="middle">-</text>
<text x="301.60" y="283.30" font-size="12" font-weight="bold" fill="#111" stroke="#111">G</text>
<rect x="353.50" y="343.80" width="7.70" height="21.80" fill="#A50F2E"/>
<line x1="357.50" y1="343.80" x2="357.50" y2="340.50" stroke="#222" stroke-width="0.9"/>
<line x1="355.90" y1="340.50" x2="359.10" y2="340.50" stroke="#222" stroke-width="1.0"/>
<rect x="364.00" y="327.68" width="8.10" height="37.92" fill="#A50F2E"/>
<line x1="368.50" y1="327.68" x2="368.50" y2="319.50" stroke="#222" stroke-width="0.9"/>
<line x1="366.90" y1="319.50" x2="370.10" y2="319.50" stroke="#222" stroke-width="1.0"/>
<rect x="375.00" y="361.18" width="8.00" height="4.42" fill="#A50F2E"/>
<line x1="379.50" y1="361.18" x2="379.50" y2="359.50" stroke="#222" stroke-width="0.9"/>
<line x1="377.90" y1="359.50" x2="381.10" y2="359.50" stroke="#222" stroke-width="1.0"/>
<rect x="386.00" y="362.12" width="8.20" height="3.48" fill="#A50F2E"/>
<line x1="390.50" y1="362.12" x2="390.50" y2="360.50" stroke="#222" stroke-width="0.9"/>
<line x1="388.90" y1="360.50" x2="392.10" y2="360.50" stroke="#222" stroke-width="1.0"/>
<line x1="351.50" y1="299.60" x2="351.50" y2="366.00" stroke="#222" stroke-width="1.1"/>
<line x1="351.00" y1="365.50" x2="395.20" y2="365.50" stroke="#222" stroke-width="1.1"/>
<line x1="348.50" y1="365.50" x2="351.50" y2="365.50" stroke="#222" stroke-width="1"/>
<text x="347.20" y="368.70" font-size="9.0" text-anchor="end" textLength="4.7" lengthAdjust="spacingAndGlyphs" style="stroke-width:0.1px">0</text>
<line x1="348.50" y1="349.50" x2="351.50" y2="349.50" stroke="#222" stroke-width="1"/>
<text x="347.20" y="352.90" font-size="9.0" text-anchor="end" textLength="9.4" lengthAdjust="spacingAndGlyphs" style="stroke-width:0.1px">10</text>
<line x1="348.50" y1="334.50" x2="351.50" y2="334.50" stroke="#222" stroke-width="1"/>
<text x="347.20" y="337.10" font-size="9.0" text-anchor="end" textLength="9.4" lengthAdjust="spacingAndGlyphs" style="stroke-width:0.1px">20</text>
<line x1="348.50" y1="318.50" x2="351.50" y2="318.50" stroke="#222" stroke-width="1"/>
<text x="347.20" y="321.30" font-size="9.0" text-anchor="end" textLength="9.4" lengthAdjust="spacingAndGlyphs" style="stroke-width:0.1px">30</text>
<line x1="348.50" y1="302.50" x2="351.50" y2="302.50" stroke="#222" stroke-width="1"/>
<text x="347.20" y="305.50" font-size="9.0" text-anchor="end" textLength="9.4" lengthAdjust="spacingAndGlyphs" style="stroke-width:0.1px">40</text>
<line x1="357.30" y1="365.60" x2="357.30" y2="368.20" stroke="#222" stroke-width="1"/>
<line x1="368.00" y1="365.60" x2="368.00" y2="368.20" stroke="#222" stroke-width="1"/>
<line x1="379.00" y1="365.60" x2="379.00" y2="368.20" stroke="#222" stroke-width="1"/>
<line x1="390.10" y1="365.60" x2="390.10" y2="368.20" stroke="#222" stroke-width="1"/>
<line x1="357.30" y1="315.50" x2="368.30" y2="315.50" stroke="#222" stroke-width="1"/>
<path d="M361.30,311.65L361.30,313.95M360.30,312.23L362.30,313.38M362.30,312.23L360.30,313.38M364.30,311.65L364.30,313.95M363.30,312.23L365.30,313.38M365.30,312.23L363.30,313.38" stroke="#1a1a1a" stroke-width="0.72" fill="none"/>
<line x1="357.30" y1="308.50" x2="380.40" y2="308.50" stroke="#222" stroke-width="1"/>
<path d="M367.35,304.65L367.35,306.95M366.35,305.23L368.35,306.38M368.35,305.23L366.35,306.38M370.35,304.65L370.35,306.95M369.35,305.23L371.35,306.38M371.35,305.23L369.35,306.38" stroke="#1a1a1a" stroke-width="0.72" fill="none"/>
<line x1="357.30" y1="301.50" x2="390.00" y2="301.50" stroke="#222" stroke-width="1"/>
<path d="M372.15,297.65L372.15,299.95M371.15,298.23L373.15,299.38M373.15,298.23L371.15,299.38M375.15,297.65L375.15,299.95M374.15,298.23L376.15,299.38M376.15,298.23L374.15,299.38" stroke="#1a1a1a" stroke-width="0.72" fill="none"/>
<line x1="378.50" y1="353.50" x2="390.40" y2="353.50" stroke="#222" stroke-width="1"/>
<text x="384.45" y="350.90" font-size="6.6" text-anchor="middle">n.s.</text>
<text x="319.20" y="333.20" font-size="8.8" text-anchor="middle" textLength="48.3" lengthAdjust="spacingAndGlyphs" transform="rotate(-90 319.20 333.20)"># Th22 cells in</text>
<text x="330.20" y="351.50" font-size="8.8" textLength="30.0" lengthAdjust="spacingAndGlyphs" transform="rotate(-90 330.20 351.50)">pLN (x10</text>
<text x="326.80" y="321.30" font-size="5.0" textLength="2.5" lengthAdjust="spacingAndGlyphs" transform="rotate(-90 326.80 321.30)" stroke-width="0.08">3</text>
<text x="330.20" y="318.60" font-size="8.8" textLength="2.8" lengthAdjust="spacingAndGlyphs" transform="rotate(-90 330.20 318.60)">)</text>
<text x="345.60" y="377.20" font-size="8.6" text-anchor="end" textLength="36.0" lengthAdjust="spacingAndGlyphs">T classical</text>
<text x="345.60" y="388.80" font-size="8.6" text-anchor="end" textLength="18.6" lengthAdjust="spacingAndGlyphs">Trans</text>
<text x="357.30" y="376.60" font-size="7.6" text-anchor="middle">+</text>
<text x="367.70" y="376.60" font-size="7.6" text-anchor="middle">+</text>
<text x="378.80" y="376.60" font-size="7.6" text-anchor="middle">-</text>
<text x="389.40" y="376.60" font-size="7.6" text-anchor="middle">-</text>
<text x="357.30" y="388.40" font-size="7.6" text-anchor="middle">+</text>
<text x="367.70" y="388.40" font-size="7.6" text-anchor="middle">-</text>
<text x="378.80" y="388.40" font-size="7.6" text-anchor="middle">+</text>
<text x="389.40" y="388.40" font-size="7.6" text-anchor="middle">-</text>
<rect x="399.00" y="330.40" width="6.00" height="3.80" fill="#A50F2E"/>
<text x="408.50" y="334.80" font-size="8.6">Th22</text>
<text x="8.60" y="419.80" font-size="12" font-weight="bold" fill="#111" stroke="#111">H</text>
<text x="75.30" y="449.60" font-size="8.2" text-anchor="middle">B6.WT</text>
<text x="142.00" y="448.70" font-size="8.2" text-anchor="middle">sgp130Fc</text>
<text x="176.00" y="488.20" font-size="8.6" textLength="12.5" lengthAdjust="spacingAndGlyphs">IgG</text>
<text x="179.80" y="557.40" font-size="8.4" textLength="19.2" lengthAdjust="spacingAndGlyphs">αIL-6R</text>
<path d="M63.4,502.5h0.6M54.5,499.9h0.6M60.3,487.4h0.6M79.2,491.6h0.6M62.2,497.3h0.6M72.5,489.7h0.6M67.7,480.3h0.6M59.4,485.6h0.6M50.9,474.9h0.6M48.4,487.6h0.6M61.1,486.8h0.6M63.2,476.6h0.6M61.9,492.4h0.6M69.2,481.5h0.6M59.1,469.8h0.6M58.2,468.0h0.6M50.2,501.0h0.6M65.5,486.9h0.6M66.6,495.3h0.6M71.7,487.7h0.6M57.4,484.0h0.6M54.0,489.6h0.6M55.7,500.7h0.6M46.2,479.1h0.6M54.3,469.1h0.6M79.2,465.9h0.6M60.1,484.7h0.6M77.1,470.1h0.6M72.0,482.7h0.6M61.2,483.3h0.6M68.2,478.6h0.6M61.9,493.5h0.6M78.7,465.9h0.6M75.9,499.5h0.6M58.4,493.0h0.6M58.5,506.5h0.6M64.4,487.8h0.6M60.6,488.0h0.6M61.1,481.2h0.6M80.6,470.9h0.6M61.3,493.7h0.6M60.8,488.5h0.6M65.5,499.7h0.6M58.7,486.3h0.6M79.6,495.3h0.6M54.0,513.2h0.6M69.4,484.1h0.6M52.3,493.0h0.6M55.3,479.4h0.6M51.3,484.9h0.6M72.3,485.7h0.6M49.9,496.7h0.6M63.2,498.4h0.6M73.1,488.3h0.6M61.3,489.5h0.6M52.7,496.7h0.6M74.6,491.7h0.6M60.5,487.4h0.6M55.8,482.0h0.6M59.1,481.6h0.6M58.8,474.2h0.6M65.7,490.5h0.6M52.5,467.0h0.6M62.5,501.0h0.6M56.2,485.2h0.6M57.6,496.5h0.6M54.6,499.9h0.6M59.9,499.2h0.6M62.9,487.7h0.6M49.7,483.1h0.6M60.3,496.6h0.6M64.7,483.0h0.6M66.2,499.9h0.6M61.3,485.6h0.6M59.2,498.1h0.6M67.3,480.7h0.6M65.9,485.2h0.6M56.0,502.4h0.6M69.8,482.8h0.6M63.3,495.0h0.6M57.0,488.8h0.6M68.4,472.1h0.6M65.5,497.4h0.6M67.0,476.6h0.6M65.4,481.4h0.6M67.6,496.0h0.6M64.5,482.3h0.6M57.4,498.5h0.6M77.0,494.4h0.6M87.5,489.6h0.6M101.7,491.7h0.6M99.8,478.7h0.6M66.9,497.4h0.6M88.5,489.3h0.6M83.3,479.4h0.6M79.0,484.8h0.6M82.0,496.8h0.6M84.1,493.6h0.6M78.5,488.6h0.6M84.5,489.5h0.6M93.2,485.8h0.6M97.9,485.2h0.6M91.6,486.5h0.6M96.1,492.2h0.6M86.7,496.0h0.6M78.9,484.8h0.6M68.5,498.9h0.6M78.5,487.6h0.6M83.5,503.7h0.6M70.7,492.9h0.6M80.7,494.6h0.6M70.2,488.8h0.6M90.0,501.0h0.6M95.7,486.0h0.6M84.1,490.6h0.6M73.4,482.3h0.6M89.4,492.8h0.6M82.6,498.9h0.6M76.2,494.6h0.6M83.8,490.9h0.6M87.4,492.4h0.6M85.7,493.0h0.6M98.2,489.4h0.6M91.3,495.1h0.6M81.1,496.3h0.6M77.3,498.6h0.6M77.6,488.2h0.6M86.1,496.5h0.6M69.1,483.0h0.6M63.6,472.6h0.6M67.3,479.7h0.6M59.8,483.5h0.6M65.6,472.6h0.6M66.8,470.5h0.6M60.2,480.3h0.6M56.8,478.2h0.6M57.8,482.1h0.6M61.0,479.0h0.6M57.1,476.1h0.6M69.3,480.6h0.6M55.4,483.2h0.6M69.1,475.9h0.6M71.7,472.0h0.6M64.2,484.3h0.6M71.2,485.2h0.6M59.1,468.0h0.6M66.6,469.9h0.6M63.9,470.8h0.6M69.9,482.5h0.6M67.4,478.1h0.6M64.8,476.3h0.6M66.5,479.4h0.6M66.9,475.6h0.6M74.1,479.6h0.6M71.6,485.5h0.6M60.2,468.5h0.6M70.9,475.8h0.6M65.0,476.5h0.6M65.3,471.3h0.6M64.1,475.4h0.6M64.5,464.9h0.6M68.7,479.9h0.6M56.0,473.9h0.6M64.8,481.5h0.6M64.6,485.8h0.6M64.7,472.4h0.6M61.2,482.2h0.6M61.5,482.7h0.6M69.7,481.3h0.6M69.7,477.0h0.6M64.6,474.7h0.6M61.5,469.2h0.6M61.8,472.0h0.6" stroke="#9a9a9a" stroke-width="0.6"/><g transform="translate(62.60,496.00) rotate(-40)"><ellipse rx="13.20" ry="10.20" fill="#fff" stroke="#444" stroke-width="0.5"/><ellipse rx="11.09" ry="8.47" fill="url(#gBlob)" stroke="#555" stroke-width="0.4"/><ellipse cx="-0.66" rx="1.72" ry="0.92" fill="#ddd"/></g><path d="M66,474 c-1.5,1 -1.5,3.5 0,4.2 c1.5,0.5 2,-1.5 1.2,-3 z" fill="none" stroke="#777" stroke-width="0.5"/>
<line x1="75.50" y1="454.60" x2="75.50" y2="515.80" stroke="#4a4a4a" stroke-width="0.9"/>
<line x1="44.60" y1="487.50" x2="106.20" y2="487.50" stroke="#4a4a4a" stroke-width="0.9"/>
<rect x="44.60" y="454.60" width="61.60" height="61.20" fill="none" stroke="#111" stroke-width="1.3"/>
<path d="M43.0,457.6h1.6M43.0,461.1h1.6M43.0,462.7h1.6M43.0,466.2h1.6M43.0,467.8h1.6M43.0,469.4h1.6M43.0,470.6h1.6M43.0,474.1h1.6M43.0,477.6h1.6M43.0,481.1h1.6M43.0,482.7h1.6M43.0,484.3h1.6M43.0,486.5h1.6M43.0,488.1h1.6M43.0,489.7h1.6M43.0,491.9h1.6M43.0,493.5h1.6M43.0,495.7h1.6M43.0,499.2h1.6M43.0,501.4h1.6M43.0,503.0h1.6M43.0,505.2h1.6M43.0,506.4h1.6M43.0,508.6h1.6M43.0,512.1h1.6M46.6,515.8v1.6M48.2,515.8v1.6M49.8,515.8v1.6M52.0,515.8v1.6M53.6,515.8v1.6M55.8,515.8v1.6M59.3,515.8v1.6M60.9,515.8v1.6M64.4,515.8v1.6M67.9,515.8v1.6M69.5,515.8v1.6M73.0,515.8v1.6M74.2,515.8v1.6M77.7,515.8v1.6M78.9,515.8v1.6M82.4,515.8v1.6M83.6,515.8v1.6M87.1,515.8v1.6M88.7,515.8v1.6M90.3,515.8v1.6M91.5,515.8v1.6M93.1,515.8v1.6M95.3,515.8v1.6M96.9,515.8v1.6M98.5,515.8v1.6M100.7,515.8v1.6M102.3,515.8v1.6M103.9,515.8v1.6M105.1,515.8v1.6" stroke="#222" stroke-width="0.6"/>
<text x="47.30" y="461.70" font-size="6.9" textLength="11.879999999999999" lengthAdjust="spacingAndGlyphs" style="stroke-width:0.22px">3.27</text>
<text x="104.20" y="461.70" font-size="6.9" text-anchor="end" textLength="11.879999999999999" lengthAdjust="spacingAndGlyphs" style="stroke-width:0.22px">0.54</text>
<text x="47.30" y="513.60" font-size="6.9" textLength="15.264" lengthAdjust="spacingAndGlyphs" style="stroke-width:0.22px">95.14</text>
<text x="104.20" y="513.60" font-size="6.9" text-anchor="end" textLength="11.879999999999999" lengthAdjust="spacingAndGlyphs" style="stroke-width:0.22px">1.05</text>
<path d="M122.7,478.1h0.6M138.9,466.7h0.6M131.7,467.0h0.6M142.6,491.6h0.6M144.9,484.6h0.6M136.5,486.7h0.6M126.5,491.1h0.6M122.0,486.1h0.6M139.1,490.2h0.6M129.4,511.5h0.6M133.5,483.7h0.6M134.4,484.4h0.6M129.6,486.1h0.6M150.7,489.8h0.6M134.5,496.3h0.6M150.6,487.4h0.6M120.2,485.9h0.6M138.8,512.4h0.6M124.7,465.3h0.6M138.8,484.4h0.6M129.6,494.2h0.6M135.0,492.5h0.6M129.2,502.5h0.6M146.2,489.9h0.6M129.0,496.9h0.6M137.2,479.2h0.6M129.0,500.1h0.6M132.2,486.3h0.6M134.9,489.3h0.6M133.0,470.3h0.6M148.3,491.6h0.6M125.3,499.4h0.6M135.7,489.8h0.6M142.2,512.2h0.6M137.8,505.5h0.6M151.9,479.4h0.6M128.4,497.4h0.6M118.1,486.9h0.6M144.3,500.0h0.6M138.1,470.6h0.6M153.6,495.1h0.6M139.7,494.5h0.6M118.0,475.3h0.6M122.4,508.8h0.6M125.7,487.2h0.6M130.8,495.3h0.6M137.4,492.3h0.6M122.0,458.2h0.6M134.5,492.3h0.6M143.8,488.6h0.6M127.7,493.7h0.6M119.4,479.2h0.6M124.2,492.5h0.6M151.3,497.2h0.6M143.0,492.0h0.6M135.4,485.1h0.6M130.5,465.3h0.6M122.5,476.7h0.6M140.3,496.2h0.6M143.0,505.2h0.6M130.3,500.2h0.6M150.1,489.5h0.6M142.5,487.9h0.6M118.9,490.8h0.6M125.8,490.7h0.6M128.9,492.8h0.6M114.3,510.4h0.6M144.9,486.1h0.6M125.0,489.6h0.6M138.9,493.8h0.6M136.5,469.9h0.6M123.1,503.0h0.6M135.1,474.4h0.6M125.4,475.1h0.6M124.1,501.4h0.6M131.1,500.9h0.6M134.7,474.4h0.6M127.3,512.8h0.6M126.2,478.9h0.6M144.0,490.5h0.6M132.9,504.5h0.6M117.3,493.9h0.6M123.6,475.3h0.6M125.7,501.3h0.6M131.7,470.9h0.6M123.1,505.2h0.6M142.1,478.5h0.6M154.7,485.9h0.6M122.3,488.2h0.6M157.9,501.4h0.6M158.6,488.4h0.6M146.4,481.8h0.6M150.1,487.3h0.6M152.6,483.0h0.6M146.7,485.5h0.6M141.5,483.5h0.6M142.9,483.5h0.6M155.1,491.7h0.6M140.6,494.4h0.6M152.9,500.4h0.6M149.2,489.8h0.6M145.4,491.9h0.6M154.5,492.2h0.6M148.8,494.7h0.6M151.4,492.7h0.6M143.5,492.4h0.6M143.1,485.7h0.6M151.9,504.6h0.6M158.3,491.1h0.6M149.3,497.4h0.6M161.3,498.9h0.6M149.3,492.3h0.6M148.2,489.3h0.6M144.1,489.5h0.6M134.2,483.4h0.6M154.0,485.2h0.6M154.8,482.8h0.6M147.9,493.6h0.6M142.7,486.5h0.6M169.7,486.7h0.6M145.3,487.4h0.6M151.0,490.9h0.6M158.2,496.2h0.6M147.6,488.8h0.6M139.8,481.5h0.6M145.0,495.8h0.6M151.6,496.2h0.6M157.9,490.0h0.6M166.8,487.8h0.6M131.8,475.1h0.6M140.8,476.8h0.6M131.2,480.1h0.6M140.8,477.0h0.6M133.7,483.8h0.6M140.0,483.0h0.6M131.1,479.2h0.6M136.9,467.3h0.6M141.1,478.2h0.6M133.3,490.6h0.6M135.7,473.5h0.6M134.7,480.8h0.6M139.2,477.3h0.6M130.6,473.6h0.6M130.8,471.6h0.6M134.9,474.8h0.6M135.3,472.9h0.6M130.6,476.5h0.6M133.2,484.2h0.6M130.4,478.8h0.6M134.8,470.1h0.6M138.7,478.6h0.6M124.3,481.1h0.6M139.8,473.0h0.6M143.6,478.5h0.6M129.1,480.8h0.6M133.2,469.9h0.6M124.1,479.0h0.6M131.2,481.3h0.6M137.0,474.6h0.6M132.3,487.7h0.6M143.7,481.9h0.6M133.2,472.0h0.6M133.0,487.1h0.6M137.3,475.9h0.6M128.7,478.6h0.6M130.5,477.7h0.6M138.8,483.7h0.6M135.7,475.6h0.6M136.2,487.9h0.6M136.9,469.6h0.6M142.9,479.0h0.6M152.7,474.9h0.6M134.5,475.9h0.6M136.9,474.3h0.6" stroke="#9a9a9a" stroke-width="0.6"/><g transform="translate(133.00,495.60) rotate(-52)"><ellipse rx="14.60" ry="10.20" fill="#fff" stroke="#444" stroke-width="0.5"/><ellipse rx="12.26" ry="8.47" fill="url(#gBlob)" stroke="#555" stroke-width="0.4"/><ellipse cx="-0.73" rx="1.90" ry="0.92" fill="#ddd"/></g><path d="M126.4,488 C130,483 131.6,479 131.9,473 C132.2,467.5 133.6,465.3 135.4,465.3 C137.4,465.3 138.8,468 139.3,472 C139.9,477 140.6,481 142.4,486" fill="#fff" stroke="#555" stroke-width="0.5"/>
<line x1="142.50" y1="454.60" x2="142.50" y2="515.80" stroke="#4a4a4a" stroke-width="0.9"/>
<line x1="111.40" y1="487.50" x2="173.20" y2="487.50" stroke="#4a4a4a" stroke-width="0.9"/>
<rect x="111.40" y="454.60" width="61.80" height="61.20" fill="none" stroke="#111" stroke-width="1.3"/>
<path d="M109.8,457.6h1.6M109.8,458.8h1.6M109.8,460.4h1.6M109.8,462.6h1.6M109.8,466.1h1.6M109.8,467.7h1.6M109.8,469.3h1.6M109.8,470.9h1.6M109.8,474.4h1.6M109.8,476.0h1.6M109.8,477.2h1.6M109.8,478.8h1.6M109.8,480.0h1.6M109.8,481.2h1.6M109.8,484.7h1.6M109.8,485.9h1.6M109.8,488.1h1.6M109.8,489.3h1.6M109.8,490.5h1.6M109.8,494.0h1.6M109.8,495.6h1.6M109.8,496.8h1.6M109.8,500.3h1.6M109.8,501.5h1.6M109.8,503.7h1.6M109.8,507.2h1.6M109.8,510.7h1.6M109.8,512.9h1.6M113.4,515.8v1.6M114.6,515.8v1.6M116.2,515.8v1.6M118.4,515.8v1.6M120.0,515.8v1.6M122.2,515.8v1.6M123.8,515.8v1.6M126.0,515.8v1.6M127.2,515.8v1.6M128.8,515.8v1.6M131.0,515.8v1.6M133.2,515.8v1.6M134.8,515.8v1.6M136.4,515.8v1.6M138.6,515.8v1.6M142.1,515.8v1.6M145.6,515.8v1.6M147.2,515.8v1.6M148.8,515.8v1.6M150.0,515.8v1.6M152.2,515.8v1.6M153.4,515.8v1.6M154.6,515.8v1.6M155.8,515.8v1.6M157.0,515.8v1.6M160.5,515.8v1.6M162.1,515.8v1.6M165.6,515.8v1.6M169.1,515.8v1.6" stroke="#222" stroke-width="0.6"/>
<text x="114.10" y="461.70" font-size="6.9" textLength="11.879999999999999" lengthAdjust="spacingAndGlyphs" style="stroke-width:0.22px">5.79</text>
<text x="171.20" y="461.70" font-size="6.9" text-anchor="end" textLength="11.879999999999999" lengthAdjust="spacingAndGlyphs" style="stroke-width:0.22px">1.20</text>
<text x="114.10" y="513.60" font-size="6.9" textLength="15.264" lengthAdjust="spacingAndGlyphs" style="stroke-width:0.22px">91.48</text>
<text x="171.20" y="513.60" font-size="6.9" text-anchor="end" textLength="11.879999999999999" lengthAdjust="spacingAndGlyphs" style="stroke-width:0.22px">1.53</text>
<path d="M61.4,564.9h0.6M61.6,556.6h0.6M55.5,557.7h0.6M73.3,564.0h0.6M72.7,562.3h0.6M67.1,561.7h0.6M49.0,568.4h0.6M68.0,564.8h0.6M48.8,542.4h0.6M55.8,555.1h0.6M66.3,559.3h0.6M68.2,553.4h0.6M66.3,563.7h0.6M57.8,577.0h0.6M68.5,571.8h0.6M58.2,552.4h0.6M60.6,558.7h0.6M69.1,562.3h0.6M59.7,550.2h0.6M59.0,572.0h0.6M56.5,562.2h0.6M67.3,544.9h0.6M64.0,572.9h0.6M62.7,551.6h0.6M68.0,559.2h0.6M50.8,568.1h0.6M69.5,569.3h0.6M76.2,563.4h0.6M64.6,546.8h0.6M69.0,553.7h0.6M59.6,547.2h0.6M55.1,554.5h0.6M74.9,539.5h0.6M50.8,562.2h0.6M76.2,565.6h0.6M47.0,534.6h0.6M66.7,552.4h0.6M53.8,569.6h0.6M73.2,561.4h0.6M65.8,564.1h0.6M77.5,566.0h0.6M68.1,565.3h0.6M49.9,572.6h0.6M72.0,565.1h0.6M46.3,553.5h0.6M71.0,541.7h0.6M62.0,570.0h0.6M52.1,575.9h0.6M68.4,558.3h0.6M66.4,566.3h0.6M64.7,571.3h0.6M57.8,555.7h0.6M72.7,560.1h0.6M55.9,569.3h0.6M76.4,555.4h0.6M51.5,558.5h0.6M62.3,556.8h0.6M75.9,549.5h0.6M74.6,547.1h0.6M56.7,566.1h0.6M73.5,568.4h0.6M66.6,561.2h0.6M64.9,565.6h0.6M62.1,562.6h0.6M68.6,559.8h0.6M70.3,565.5h0.6M81.2,563.0h0.6M59.9,556.1h0.6M63.5,569.0h0.6M60.7,563.7h0.6M79.7,534.2h0.6M53.8,562.2h0.6M67.1,562.2h0.6M59.8,566.4h0.6M66.1,554.6h0.6M84.9,563.4h0.6M58.8,558.8h0.6M61.6,559.2h0.6M72.4,548.1h0.6M63.0,569.3h0.6M71.1,574.7h0.6M48.7,556.3h0.6M60.6,566.0h0.6M73.2,533.0h0.6M73.1,545.3h0.6M69.6,544.9h0.6M65.1,571.7h0.6M62.3,561.7h0.6M90.5,560.9h0.6M83.8,569.6h0.6M92.4,558.2h0.6M105.1,552.8h0.6M91.4,558.3h0.6M85.5,564.4h0.6M86.2,564.0h0.6M73.0,550.6h0.6M89.1,554.0h0.6M76.8,550.8h0.6M94.0,564.7h0.6M95.5,554.1h0.6M84.5,552.9h0.6M90.2,569.9h0.6M77.8,569.8h0.6M91.9,558.9h0.6M69.7,568.8h0.6M83.8,556.2h0.6M87.5,562.6h0.6M95.7,553.6h0.6M93.0,569.3h0.6M95.4,558.9h0.6M78.9,566.4h0.6M85.4,560.8h0.6M95.2,558.4h0.6M67.3,557.6h0.6M70.6,565.1h0.6M86.9,556.2h0.6M84.4,565.2h0.6M85.1,568.3h0.6M84.0,566.5h0.6M95.7,570.1h0.6M79.5,565.5h0.6M70.4,553.2h0.6M69.8,566.7h0.6M75.3,559.9h0.6M83.1,559.8h0.6M80.1,561.5h0.6M97.9,560.3h0.6M88.5,566.3h0.6M64.6,540.7h0.6M62.8,553.8h0.6M57.4,544.4h0.6M70.6,552.3h0.6M65.6,552.3h0.6M66.4,541.2h0.6M57.8,544.2h0.6M70.2,544.6h0.6M61.1,543.5h0.6M57.9,547.1h0.6M59.7,549.8h0.6M53.8,549.6h0.6M62.4,536.9h0.6M69.2,546.3h0.6M54.4,542.9h0.6M67.1,545.2h0.6M69.5,552.0h0.6M68.9,549.6h0.6M72.3,551.5h0.6M67.9,536.1h0.6M70.1,555.2h0.6M64.1,545.2h0.6M75.3,537.9h0.6M67.9,561.4h0.6M61.0,551.7h0.6M75.0,547.1h0.6M68.4,552.9h0.6M61.1,547.3h0.6M67.1,552.4h0.6M65.4,546.7h0.6M60.5,545.8h0.6M70.1,548.4h0.6M61.3,543.1h0.6M78.9,554.2h0.6M68.8,533.2h0.6M68.7,550.5h0.6M74.0,550.2h0.6M65.3,550.7h0.6M55.9,553.6h0.6M67.2,543.9h0.6M72.2,558.0h0.6M58.6,544.1h0.6M67.1,548.8h0.6M63.6,542.3h0.6M76.2,553.6h0.6" stroke="#9a9a9a" stroke-width="0.6"/><g transform="translate(63.60,565.80) rotate(-25)"><ellipse rx="11.80" ry="8.80" fill="#fff" stroke="#444" stroke-width="0.5"/><ellipse rx="9.91" ry="7.30" fill="url(#gBlob)" stroke="#555" stroke-width="0.4"/><ellipse cx="-0.59" rx="1.53" ry="0.79" fill="#ddd"/></g>
<line x1="76.50" y1="523.20" x2="76.50" y2="584.60" stroke="#4a4a4a" stroke-width="0.9"/>
<line x1="44.60" y1="556.50" x2="106.80" y2="556.50" stroke="#4a4a4a" stroke-width="0.9"/>
<rect x="44.60" y="523.20" width="62.20" height="61.40" fill="none" stroke="#111" stroke-width="1.3"/>
<path d="M43.0,526.2h1.6M43.0,527.4h1.6M43.0,529.6h1.6M43.0,530.8h1.6M43.0,532.4h1.6M43.0,533.6h1.6M43.0,535.8h1.6M43.0,537.0h1.6M43.0,540.5h1.6M43.0,541.7h1.6M43.0,543.9h1.6M43.0,547.4h1.6M43.0,549.6h1.6M43.0,551.2h1.6M43.0,552.4h1.6M43.0,554.0h1.6M43.0,555.2h1.6M43.0,556.8h1.6M43.0,559.0h1.6M43.0,560.2h1.6M43.0,561.8h1.6M43.0,563.4h1.6M43.0,565.6h1.6M43.0,567.8h1.6M43.0,569.4h1.6M43.0,571.6h1.6M43.0,575.1h1.6M43.0,576.7h1.6M43.0,578.9h1.6M43.0,581.1h1.6M43.0,582.3h1.6M46.6,584.6v1.6M47.8,584.6v1.6M49.0,584.6v1.6M50.2,584.6v1.6M51.8,584.6v1.6M55.3,584.6v1.6M56.9,584.6v1.6M60.4,584.6v1.6M61.6,584.6v1.6M65.1,584.6v1.6M68.6,584.6v1.6M72.1,584.6v1.6M74.3,584.6v1.6M75.9,584.6v1.6M77.5,584.6v1.6M79.7,584.6v1.6M81.3,584.6v1.6M82.9,584.6v1.6M86.4,584.6v1.6M88.6,584.6v1.6M89.8,584.6v1.6M91.4,584.6v1.6M92.6,584.6v1.6M93.8,584.6v1.6M96.0,584.6v1.6M99.5,584.6v1.6M101.1,584.6v1.6M102.3,584.6v1.6M103.5,584.6v1.6" stroke="#222" stroke-width="0.6"/>
<text x="47.30" y="530.30" font-size="6.9" textLength="11.879999999999999" lengthAdjust="spacingAndGlyphs" style="stroke-width:0.22px">1.27</text>
<text x="104.80" y="530.30" font-size="6.9" text-anchor="end" textLength="11.879999999999999" lengthAdjust="spacingAndGlyphs" style="stroke-width:0.22px">0.09</text>
<text x="47.30" y="582.40" font-size="6.9" textLength="15.264" lengthAdjust="spacingAndGlyphs" style="stroke-width:0.22px">98.20</text>
<text x="104.80" y="582.40" font-size="6.9" text-anchor="end" textLength="11.879999999999999" lengthAdjust="spacingAndGlyphs" style="stroke-width:0.22px">0.44</text>
<path d="M122.6,561.4h0.6M142.1,574.5h0.6M141.1,559.7h0.6M133.7,556.8h0.6M119.4,554.6h0.6M139.1,561.7h0.6M128.0,548.7h0.6M130.0,553.4h0.6M131.1,564.0h0.6M118.1,549.9h0.6M120.0,570.3h0.6M136.6,564.1h0.6M124.4,544.9h0.6M127.5,561.2h0.6M130.2,566.0h0.6M127.7,577.1h0.6M136.5,579.0h0.6M132.9,556.9h0.6M123.4,567.2h0.6M139.9,560.7h0.6M134.3,556.5h0.6M127.1,556.3h0.6M114.4,549.1h0.6M131.1,560.4h0.6M140.2,565.4h0.6M134.5,559.7h0.6M123.1,564.0h0.6M128.3,555.8h0.6M126.1,556.2h0.6M113.7,543.3h0.6M141.3,563.4h0.6M126.9,555.7h0.6M135.3,559.1h0.6M124.9,535.6h0.6M131.8,572.9h0.6M138.8,561.7h0.6M125.4,547.3h0.6M131.4,555.0h0.6M120.8,575.6h0.6M122.5,553.7h0.6M129.3,558.3h0.6M133.2,550.7h0.6M125.3,562.0h0.6M123.5,562.3h0.6M141.3,566.7h0.6M143.0,569.8h0.6M145.8,562.0h0.6M134.4,548.2h0.6M129.1,551.9h0.6M130.1,548.7h0.6M123.9,564.8h0.6M136.2,551.8h0.6M128.1,553.9h0.6M134.5,552.8h0.6M153.4,567.7h0.6M140.7,580.6h0.6M142.7,558.0h0.6M133.9,559.5h0.6M133.0,568.8h0.6M113.4,542.4h0.6M127.9,563.6h0.6M126.4,557.1h0.6M140.3,565.8h0.6M129.7,555.7h0.6M117.8,563.9h0.6M131.6,549.4h0.6M134.8,555.2h0.6M127.6,542.4h0.6M138.3,551.2h0.6M133.0,561.0h0.6M125.5,558.1h0.6M128.3,556.1h0.6M132.0,552.2h0.6M136.2,559.7h0.6M120.0,562.6h0.6M126.7,563.2h0.6M158.0,564.9h0.6M139.2,551.1h0.6M120.1,557.4h0.6M133.5,557.2h0.6M124.0,549.4h0.6M126.4,574.5h0.6M130.1,554.6h0.6M149.6,553.5h0.6M141.5,560.5h0.6M161.8,562.8h0.6M141.4,569.2h0.6M153.9,571.6h0.6M150.9,551.3h0.6M153.6,558.8h0.6M143.7,555.1h0.6M148.9,554.3h0.6M156.6,561.7h0.6M148.5,557.5h0.6M158.6,562.3h0.6M143.1,561.4h0.6M165.0,561.8h0.6M145.6,569.4h0.6M170.8,560.8h0.6M134.9,550.8h0.6M166.3,559.0h0.6M157.7,563.6h0.6M153.7,570.8h0.6M154.1,564.1h0.6M155.1,562.0h0.6M171.2,553.5h0.6M143.6,567.4h0.6M143.3,561.5h0.6M144.9,566.5h0.6M152.7,564.8h0.6M147.3,559.5h0.6M135.5,565.6h0.6M155.7,560.4h0.6M153.0,557.9h0.6M152.1,572.2h0.6M148.0,557.3h0.6M157.8,561.8h0.6M148.0,570.7h0.6M165.2,558.3h0.6M166.3,551.6h0.6M164.2,550.2h0.6M155.5,559.4h0.6M149.9,564.3h0.6M128.2,543.2h0.6M127.4,556.0h0.6M130.0,549.5h0.6M131.9,553.4h0.6M127.8,542.5h0.6M129.8,548.5h0.6M129.2,550.1h0.6M135.8,553.4h0.6M135.8,555.4h0.6M131.3,544.6h0.6M129.6,543.6h0.6M126.3,549.7h0.6M133.6,535.6h0.6M132.4,543.3h0.6M128.4,545.9h0.6M139.1,548.1h0.6M122.9,549.3h0.6M128.6,556.7h0.6M130.5,547.0h0.6M132.0,542.7h0.6M130.9,546.7h0.6M144.0,548.1h0.6M135.5,548.0h0.6M134.0,549.4h0.6M140.1,530.8h0.6M129.8,542.7h0.6M137.3,542.9h0.6M137.9,553.7h0.6M130.3,550.7h0.6M130.7,552.2h0.6M135.6,554.3h0.6M137.2,541.8h0.6M140.4,547.7h0.6M138.5,548.0h0.6M137.8,540.9h0.6M139.8,542.1h0.6M132.4,550.3h0.6M125.6,549.7h0.6M133.3,552.2h0.6M132.7,542.0h0.6M127.7,543.0h0.6M133.8,546.6h0.6M136.2,556.2h0.6M131.7,545.0h0.6M135.1,550.1h0.6" stroke="#9a9a9a" stroke-width="0.6"/><g transform="translate(130.80,565.20) rotate(-25)"><ellipse rx="11.60" ry="9.00" fill="#fff" stroke="#444" stroke-width="0.5"/><ellipse rx="9.74" ry="7.47" fill="url(#gBlob)" stroke="#555" stroke-width="0.4"/><ellipse cx="-0.58" rx="1.51" ry="0.81" fill="#ddd"/></g>
<line x1="144.50" y1="523.20" x2="144.50" y2="584.60" stroke="#4a4a4a" stroke-width="0.9"/>
<line x1="111.40" y1="556.50" x2="174.00" y2="556.50" stroke="#4a4a4a" stroke-width="0.9"/>
<rect x="111.40" y="523.20" width="62.60" height="61.40" fill="none" stroke="#111" stroke-width="1.3"/>
<path d="M109.8,526.2h1.6M109.8,527.8h1.6M109.8,531.3h1.6M109.8,532.9h1.6M109.8,534.5h1.6M109.8,538.0h1.6M109.8,539.2h1.6M109.8,540.4h1.6M109.8,542.6h1.6M109.8,546.1h1.6M109.8,548.3h1.6M109.8,549.5h1.6M109.8,551.7h1.6M109.8,555.2h1.6M109.8,558.7h1.6M109.8,562.2h1.6M109.8,563.8h1.6M109.8,565.0h1.6M109.8,566.6h1.6M109.8,567.8h1.6M109.8,570.0h1.6M109.8,572.2h1.6M109.8,573.8h1.6M109.8,577.3h1.6M109.8,578.9h1.6M109.8,580.1h1.6M109.8,582.3h1.6M113.4,584.6v1.6M115.0,584.6v1.6M116.2,584.6v1.6M117.4,584.6v1.6M119.0,584.6v1.6M121.2,584.6v1.6M123.4,584.6v1.6M125.0,584.6v1.6M127.2,584.6v1.6M129.4,584.6v1.6M132.9,584.6v1.6M134.1,584.6v1.6M135.3,584.6v1.6M138.8,584.6v1.6M140.4,584.6v1.6M143.9,584.6v1.6M147.4,584.6v1.6M148.6,584.6v1.6M150.8,584.6v1.6M152.4,584.6v1.6M154.0,584.6v1.6M155.6,584.6v1.6M159.1,584.6v1.6M160.7,584.6v1.6M164.2,584.6v1.6M165.4,584.6v1.6M168.9,584.6v1.6M170.5,584.6v1.6M172.7,584.6v1.6" stroke="#222" stroke-width="0.6"/>
<text x="114.10" y="530.30" font-size="6.9" textLength="11.879999999999999" lengthAdjust="spacingAndGlyphs" style="stroke-width:0.22px">1.51</text>
<text x="172.00" y="530.30" font-size="6.9" text-anchor="end" textLength="11.879999999999999" lengthAdjust="spacingAndGlyphs" style="stroke-width:0.22px">0.09</text>
<text x="114.10" y="582.40" font-size="6.9" textLength="15.264" lengthAdjust="spacingAndGlyphs" style="stroke-width:0.22px">97.95</text>
<text x="172.00" y="582.40" font-size="6.9" text-anchor="end" textLength="11.879999999999999" lengthAdjust="spacingAndGlyphs" style="stroke-width:0.22px">0.45</text>
<line x1="35.60" y1="561.00" x2="35.60" y2="464.60" stroke="#111" stroke-width="1.1"/>
<path d="M35.60,459.60 L37.80,464.60 L33.40,464.60 Z" stroke="none" stroke-width="1" fill="#111"/>
<text x="38.90" y="576.60" font-size="9.0" text-anchor="middle" textLength="17.3" lengthAdjust="spacingAndGlyphs" transform="rotate(-90 38.90 576.60)">IL-22</text>
<text x="61.50" y="596.80" font-size="9.0" text-anchor="middle" textLength="21.5" lengthAdjust="spacingAndGlyphs">IL-17A</text>
<line x1="79.00" y1="594.00" x2="162.50" y2="594.00" stroke="#111" stroke-width="1.1"/>
<path d="M167.50,594.00 L162.50,596.20 L162.50,591.80 Z" stroke="none" stroke-width="1" fill="#111"/>
<text x="205.80" y="419.90" font-size="12" font-weight="bold" fill="#111" stroke="#111">I</text>
<text x="260.50" y="423.40" font-size="8.4" text-anchor="middle">Spleen</text>
<text x="343.10" y="423.40" font-size="8.4" text-anchor="middle">Liver</text>
<text x="414.80" y="423.40" font-size="8.4" text-anchor="middle">mLN</text>
<text x="486.40" y="423.40" font-size="8.4" text-anchor="middle">pLN</text>
<rect x="243.00" y="452.72" width="7.00" height="42.98" fill="#E0921E"/>
<line x1="246.50" y1="452.72" x2="246.50" y2="448.50" stroke="#222" stroke-width="0.9"/>
<line x1="244.90" y1="448.50" x2="248.10" y2="448.50" stroke="#222" stroke-width="1.0"/>
<rect x="252.05" y="448.30" width="7.00" height="47.40" fill="#A50F2E"/>
<line x1="255.50" y1="448.30" x2="255.50" y2="442.50" stroke="#222" stroke-width="0.9"/>
<line x1="253.90" y1="442.50" x2="257.10" y2="442.50" stroke="#222" stroke-width="1.0"/>
<rect x="261.10" y="484.96" width="7.00" height="10.74" fill="#E0921E"/>
<line x1="264.50" y1="484.96" x2="264.50" y2="482.50" stroke="#222" stroke-width="0.9"/>
<line x1="262.90" y1="482.50" x2="266.10" y2="482.50" stroke="#222" stroke-width="1.0"/>
<rect x="270.15" y="485.90" width="7.00" height="9.80" fill="#A50F2E"/>
<line x1="273.50" y1="485.90" x2="273.50" y2="483.50" stroke="#222" stroke-width="0.9"/>
<line x1="271.90" y1="483.50" x2="275.10" y2="483.50" stroke="#222" stroke-width="1.0"/>
<line x1="241.50" y1="431.20" x2="241.50" y2="496.00" stroke="#222" stroke-width="1.1"/>
<line x1="241.00" y1="495.50" x2="278.50" y2="495.50" stroke="#222" stroke-width="1.1"/>
<line x1="238.40" y1="495.50" x2="241.40" y2="495.50" stroke="#222" stroke-width="1"/>
<text x="236.50" y="498.80" font-size="9.0" text-anchor="end" textLength="11.8" lengthAdjust="spacingAndGlyphs" style="stroke-width:0.1px">0.0</text>
<line x1="238.40" y1="479.50" x2="241.40" y2="479.50" stroke="#222" stroke-width="1"/>
<text x="236.50" y="483.00" font-size="9.0" text-anchor="end" textLength="11.8" lengthAdjust="spacingAndGlyphs" style="stroke-width:0.1px">0.5</text>
<line x1="238.40" y1="464.50" x2="241.40" y2="464.50" stroke="#222" stroke-width="1"/>
<text x="236.50" y="467.20" font-size="9.0" text-anchor="end" textLength="11.8" lengthAdjust="spacingAndGlyphs" style="stroke-width:0.1px">1.0</text>
<line x1="238.40" y1="448.50" x2="241.40" y2="448.50" stroke="#222" stroke-width="1"/>
<text x="236.50" y="451.40" font-size="9.0" text-anchor="end" textLength="11.8" lengthAdjust="spacingAndGlyphs" style="stroke-width:0.1px">1.5</text>
<line x1="238.40" y1="432.50" x2="241.40" y2="432.50" stroke="#222" stroke-width="1"/>
<text x="236.50" y="435.60" font-size="9.0" text-anchor="end" textLength="11.8" lengthAdjust="spacingAndGlyphs" style="stroke-width:0.1px">2.0</text>
<line x1="251.03" y1="495.70" x2="251.03" y2="498.30" stroke="#222" stroke-width="1"/>
<line x1="269.12" y1="495.70" x2="269.12" y2="498.30" stroke="#222" stroke-width="1"/>
<line x1="255.60" y1="437.50" x2="275.00" y2="437.50" stroke="#222" stroke-width="1"/>
<path d="M262.30,433.65L262.30,435.95M261.30,434.23L263.30,435.38M263.30,434.23L261.30,435.38M265.30,433.65L265.30,435.95M264.30,434.23L266.30,435.38M266.30,434.23L264.30,435.38M268.30,433.65L268.30,435.95M267.30,434.23L269.30,435.38M269.30,434.23L267.30,435.38" stroke="#1a1a1a" stroke-width="0.72" fill="none"/>
<line x1="265.00" y1="475.50" x2="274.60" y2="475.50" stroke="#222" stroke-width="1"/>
<text x="269.80" y="472.90" font-size="6.6" text-anchor="middle">n.s.</text>
<rect x="325.70" y="479.90" width="7.00" height="15.80" fill="#E0921E"/>
<line x1="329.50" y1="479.90" x2="329.50" y2="477.50" stroke="#222" stroke-width="0.9"/>
<line x1="327.90" y1="477.50" x2="331.10" y2="477.50" stroke="#222" stroke-width="1.0"/>
<rect x="334.75" y="471.05" width="7.00" height="24.65" fill="#A50F2E"/>
<line x1="338.50" y1="471.05" x2="338.50" y2="467.50" stroke="#222" stroke-width="0.9"/>
<line x1="336.90" y1="467.50" x2="340.10" y2="467.50" stroke="#222" stroke-width="1.0"/>
<rect x="343.80" y="492.54" width="7.00" height="3.16" fill="#E0921E"/>
<line x1="347.50" y1="492.54" x2="347.50" y2="490.50" stroke="#222" stroke-width="0.9"/>
<line x1="345.90" y1="490.50" x2="349.10" y2="490.50" stroke="#222" stroke-width="1.0"/>
<rect x="352.85" y="490.96" width="7.00" height="4.74" fill="#A50F2E"/>
<line x1="356.50" y1="490.96" x2="356.50" y2="488.50" stroke="#222" stroke-width="0.9"/>
<line x1="354.90" y1="488.50" x2="358.10" y2="488.50" stroke="#222" stroke-width="1.0"/>
<line x1="324.50" y1="431.20" x2="324.50" y2="496.00" stroke="#222" stroke-width="1.1"/>
<line x1="324.00" y1="495.50" x2="361.00" y2="495.50" stroke="#222" stroke-width="1.1"/>
<line x1="321.10" y1="495.50" x2="324.10" y2="495.50" stroke="#222" stroke-width="1"/>
<text x="318.80" y="498.80" font-size="9.0" text-anchor="end" textLength="11.8" lengthAdjust="spacingAndGlyphs" style="stroke-width:0.1px">0.0</text>
<line x1="321.10" y1="479.50" x2="324.10" y2="479.50" stroke="#222" stroke-width="1"/>
<text x="318.80" y="483.00" font-size="9.0" text-anchor="end" textLength="11.8" lengthAdjust="spacingAndGlyphs" style="stroke-width:0.1px">0.5</text>
<line x1="321.10" y1="464.50" x2="324.10" y2="464.50" stroke="#222" stroke-width="1"/>
<text x="318.80" y="467.20" font-size="9.0" text-anchor="end" textLength="11.8" lengthAdjust="spacingAndGlyphs" style="stroke-width:0.1px">1.0</text>
<line x1="321.10" y1="448.50" x2="324.10" y2="448.50" stroke="#222" stroke-width="1"/>
<text x="318.80" y="451.40" font-size="9.0" text-anchor="end" textLength="11.8" lengthAdjust="spacingAndGlyphs" style="stroke-width:0.1px">1.5</text>
<line x1="321.10" y1="432.50" x2="324.10" y2="432.50" stroke="#222" stroke-width="1"/>
<text x="318.80" y="435.60" font-size="9.0" text-anchor="end" textLength="11.8" lengthAdjust="spacingAndGlyphs" style="stroke-width:0.1px">2.0</text>
<line x1="333.73" y1="495.70" x2="333.73" y2="498.30" stroke="#222" stroke-width="1"/>
<line x1="351.83" y1="495.70" x2="351.83" y2="498.30" stroke="#222" stroke-width="1"/>
<line x1="329.30" y1="456.50" x2="338.50" y2="456.50" stroke="#222" stroke-width="1"/>
<path d="M333.90,452.65L333.90,454.95M332.90,453.23L334.90,454.38M334.90,453.23L332.90,454.38" stroke="#1a1a1a" stroke-width="0.72" fill="none"/>
<line x1="338.80" y1="462.50" x2="356.10" y2="462.50" stroke="#222" stroke-width="1"/>
<path d="M344.45,458.65L344.45,460.95M343.45,459.23L345.45,460.38M345.45,459.23L343.45,460.38M347.45,458.65L347.45,460.95M346.45,459.23L348.45,460.38M348.45,459.23L346.45,460.38M350.45,458.65L350.45,460.95M349.45,459.23L351.45,460.38M351.45,459.23L349.45,460.38" stroke="#1a1a1a" stroke-width="0.72" fill="none"/>
<line x1="347.50" y1="480.50" x2="357.00" y2="480.50" stroke="#222" stroke-width="1"/>
<text x="352.25" y="477.90" font-size="6.6" text-anchor="middle">n.s.</text>
<rect x="397.60" y="477.06" width="7.00" height="18.94" fill="#E0921E"/>
<line x1="401.50" y1="477.06" x2="401.50" y2="471.50" stroke="#222" stroke-width="0.9"/>
<line x1="399.90" y1="471.50" x2="403.10" y2="471.50" stroke="#222" stroke-width="1.0"/>
<rect x="406.65" y="461.28" width="7.00" height="34.72" fill="#A50F2E"/>
<line x1="410.50" y1="461.28" x2="410.50" y2="453.50" stroke="#222" stroke-width="0.9"/>
<line x1="408.90" y1="453.50" x2="412.10" y2="453.50" stroke="#222" stroke-width="1.0"/>
<rect x="415.70" y="487.27" width="7.00" height="8.73" fill="#E0921E"/>
<line x1="419.50" y1="487.27" x2="419.50" y2="485.50" stroke="#222" stroke-width="0.9"/>
<line x1="417.90" y1="485.50" x2="421.10" y2="485.50" stroke="#222" stroke-width="1.0"/>
<rect x="424.75" y="485.48" width="7.00" height="10.52" fill="#A50F2E"/>
<line x1="428.50" y1="485.48" x2="428.50" y2="483.50" stroke="#222" stroke-width="0.9"/>
<line x1="426.90" y1="483.50" x2="430.10" y2="483.50" stroke="#222" stroke-width="1.0"/>
<line x1="396.50" y1="430.80" x2="396.50" y2="497.00" stroke="#222" stroke-width="1.1"/>
<line x1="396.00" y1="496.50" x2="433.00" y2="496.50" stroke="#222" stroke-width="1.1"/>
<line x1="393.00" y1="496.50" x2="396.00" y2="496.50" stroke="#222" stroke-width="1"/>
<text x="390.50" y="499.10" font-size="9.0" text-anchor="end" textLength="4.7" lengthAdjust="spacingAndGlyphs" style="stroke-width:0.1px">0</text>
<line x1="393.00" y1="474.50" x2="396.00" y2="474.50" stroke="#222" stroke-width="1"/>
<text x="390.50" y="478.06" font-size="9.0" text-anchor="end" textLength="4.7" lengthAdjust="spacingAndGlyphs" style="stroke-width:0.1px">2</text>
<line x1="393.00" y1="453.50" x2="396.00" y2="453.50" stroke="#222" stroke-width="1"/>
<text x="390.50" y="457.02" font-size="9.0" text-anchor="end" textLength="4.7" lengthAdjust="spacingAndGlyphs" style="stroke-width:0.1px">4</text>
<line x1="393.00" y1="432.50" x2="396.00" y2="432.50" stroke="#222" stroke-width="1"/>
<text x="390.50" y="435.98" font-size="9.0" text-anchor="end" textLength="4.7" lengthAdjust="spacingAndGlyphs" style="stroke-width:0.1px">6</text>
<line x1="405.62" y1="496.00" x2="405.62" y2="498.60" stroke="#222" stroke-width="1"/>
<line x1="423.73" y1="496.00" x2="423.73" y2="498.60" stroke="#222" stroke-width="1"/>
<line x1="410.00" y1="450.50" x2="429.00" y2="450.50" stroke="#222" stroke-width="1"/>
<path d="M418.00,446.65L418.00,448.95M417.00,447.23L419.00,448.38M419.00,447.23L417.00,448.38M421.00,446.65L421.00,448.95M420.00,447.23L422.00,448.38M422.00,447.23L420.00,448.38" stroke="#1a1a1a" stroke-width="0.72" fill="none"/>
<line x1="419.40" y1="479.50" x2="429.00" y2="479.50" stroke="#222" stroke-width="1"/>
<text x="424.20" y="476.90" font-size="6.6" text-anchor="middle">n.s.</text>
<rect x="469.00" y="471.80" width="7.00" height="24.20" fill="#E0921E"/>
<line x1="472.50" y1="471.80" x2="472.50" y2="462.50" stroke="#222" stroke-width="0.9"/>
<line x1="470.90" y1="462.50" x2="474.10" y2="462.50" stroke="#222" stroke-width="1.0"/>
<rect x="478.05" y="446.03" width="7.00" height="49.97" fill="#A50F2E"/>
<line x1="481.50" y1="446.03" x2="481.50" y2="440.50" stroke="#222" stroke-width="0.9"/>
<line x1="479.90" y1="440.50" x2="483.10" y2="440.50" stroke="#222" stroke-width="1.0"/>
<rect x="487.10" y="484.43" width="7.00" height="11.57" fill="#E0921E"/>
<line x1="490.50" y1="484.43" x2="490.50" y2="480.50" stroke="#222" stroke-width="0.9"/>
<line x1="488.90" y1="480.50" x2="492.10" y2="480.50" stroke="#222" stroke-width="1.0"/>
<rect x="496.15" y="482.85" width="7.00" height="13.15" fill="#A50F2E"/>
<line x1="499.50" y1="482.85" x2="499.50" y2="479.50" stroke="#222" stroke-width="0.9"/>
<line x1="497.90" y1="479.50" x2="501.10" y2="479.50" stroke="#222" stroke-width="1.0"/>
<line x1="467.50" y1="430.80" x2="467.50" y2="497.00" stroke="#222" stroke-width="1.1"/>
<line x1="467.00" y1="496.50" x2="504.50" y2="496.50" stroke="#222" stroke-width="1.1"/>
<line x1="464.40" y1="496.50" x2="467.40" y2="496.50" stroke="#222" stroke-width="1"/>
<text x="461.80" y="499.10" font-size="9.0" text-anchor="end" textLength="4.7" lengthAdjust="spacingAndGlyphs" style="stroke-width:0.1px">0</text>
<line x1="464.40" y1="474.50" x2="467.40" y2="474.50" stroke="#222" stroke-width="1"/>
<text x="461.80" y="478.06" font-size="9.0" text-anchor="end" textLength="4.7" lengthAdjust="spacingAndGlyphs" style="stroke-width:0.1px">2</text>
<line x1="464.40" y1="453.50" x2="467.40" y2="453.50" stroke="#222" stroke-width="1"/>
<text x="461.80" y="457.02" font-size="9.0" text-anchor="end" textLength="4.7" lengthAdjust="spacingAndGlyphs" style="stroke-width:0.1px">4</text>
<line x1="464.40" y1="432.50" x2="467.40" y2="432.50" stroke="#222" stroke-width="1"/>
<text x="461.80" y="435.98" font-size="9.0" text-anchor="end" textLength="4.7" lengthAdjust="spacingAndGlyphs" style="stroke-width:0.1px">6</text>
<line x1="477.02" y1="496.00" x2="477.02" y2="498.60" stroke="#222" stroke-width="1"/>
<line x1="495.12" y1="496.00" x2="495.12" y2="498.60" stroke="#222" stroke-width="1"/>
<line x1="472.40" y1="435.50" x2="482.00" y2="435.50" stroke="#222" stroke-width="1"/>
<path d="M474.20,431.65L474.20,433.95M473.20,432.23L475.20,433.38M475.20,432.23L473.20,433.38M477.20,431.65L477.20,433.95M476.20,432.23L478.20,433.38M478.20,432.23L476.20,433.38M480.20,431.65L480.20,433.95M479.20,432.23L481.20,433.38M481.20,432.23L479.20,433.38" stroke="#1a1a1a" stroke-width="0.72" fill="none"/>
<line x1="482.00" y1="438.50" x2="500.60" y2="438.50" stroke="#222" stroke-width="1"/>
<path d="M488.30,434.65L488.30,436.95M487.30,435.23L489.30,436.38M489.30,435.23L487.30,436.38M491.30,434.65L491.30,436.95M490.30,435.23L492.30,436.38M492.30,435.23L490.30,436.38M494.30,434.65L494.30,436.95M493.30,435.23L495.30,436.38M495.30,435.23L493.30,436.38" stroke="#1a1a1a" stroke-width="0.72" fill="none"/>
<line x1="491.00" y1="475.50" x2="500.00" y2="475.50" stroke="#222" stroke-width="1"/>
<text x="495.50" y="472.90" font-size="6.6" text-anchor="middle">n.s.</text>
<text x="217.60" y="463.00" font-size="9.0" text-anchor="middle" textLength="42.5" lengthAdjust="spacingAndGlyphs" transform="rotate(-90 217.60 463.00)" style="stroke-width:0.1px">% Th22 cells</text>
<text x="300.00" y="463.00" font-size="9.0" text-anchor="middle" textLength="42.5" lengthAdjust="spacingAndGlyphs" transform="rotate(-90 300.00 463.00)" style="stroke-width:0.1px">% Th22 cells</text>
<text x="379.20" y="463.00" font-size="9.0" text-anchor="middle" textLength="42.5" lengthAdjust="spacingAndGlyphs" transform="rotate(-90 379.20 463.00)" style="stroke-width:0.1px">% Th22 cells</text>
<text x="450.00" y="463.00" font-size="9.0" text-anchor="middle" textLength="42.5" lengthAdjust="spacingAndGlyphs" transform="rotate(-90 450.00 463.00)" style="stroke-width:0.1px">% Th22 cells</text>
<rect x="243.00" y="534.80" width="7.00" height="47.90" fill="#E0921E"/>
<line x1="246.50" y1="534.80" x2="246.50" y2="527.50" stroke="#222" stroke-width="0.9"/>
<line x1="244.90" y1="527.50" x2="248.10" y2="527.50" stroke="#222" stroke-width="1.0"/>
<rect x="252.05" y="536.28" width="7.00" height="46.42" fill="#A50F2E"/>
<line x1="255.50" y1="536.28" x2="255.50" y2="523.50" stroke="#222" stroke-width="0.9"/>
<line x1="253.90" y1="523.50" x2="257.10" y2="523.50" stroke="#222" stroke-width="1.0"/>
<rect x="261.10" y="565.61" width="7.00" height="17.09" fill="#E0921E"/>
<line x1="264.50" y1="565.61" x2="264.50" y2="561.50" stroke="#222" stroke-width="0.9"/>
<line x1="262.90" y1="561.50" x2="266.10" y2="561.50" stroke="#222" stroke-width="1.0"/>
<rect x="270.15" y="562.66" width="7.00" height="20.04" fill="#A50F2E"/>
<line x1="273.50" y1="562.66" x2="273.50" y2="555.50" stroke="#222" stroke-width="0.9"/>
<line x1="271.90" y1="555.50" x2="275.10" y2="555.50" stroke="#222" stroke-width="1.0"/>
<line x1="241.50" y1="517.30" x2="241.50" y2="583.00" stroke="#222" stroke-width="1.1"/>
<line x1="241.00" y1="582.50" x2="278.50" y2="582.50" stroke="#222" stroke-width="1.1"/>
<line x1="238.40" y1="582.50" x2="241.40" y2="582.50" stroke="#222" stroke-width="1"/>
<text x="236.50" y="585.80" font-size="9.0" text-anchor="end" textLength="4.7" lengthAdjust="spacingAndGlyphs" style="stroke-width:0.1px">0</text>
<line x1="238.40" y1="561.50" x2="241.40" y2="561.50" stroke="#222" stroke-width="1"/>
<text x="236.50" y="564.70" font-size="9.0" text-anchor="end" textLength="9.4" lengthAdjust="spacingAndGlyphs" style="stroke-width:0.1px">10</text>
<line x1="238.40" y1="540.50" x2="241.40" y2="540.50" stroke="#222" stroke-width="1"/>
<text x="236.50" y="543.60" font-size="9.0" text-anchor="end" textLength="9.4" lengthAdjust="spacingAndGlyphs" style="stroke-width:0.1px">20</text>
<line x1="238.40" y1="519.50" x2="241.40" y2="519.50" stroke="#222" stroke-width="1"/>
<text x="236.50" y="522.50" font-size="9.0" text-anchor="end" textLength="9.4" lengthAdjust="spacingAndGlyphs" style="stroke-width:0.1px">30</text>
<line x1="251.03" y1="582.70" x2="251.03" y2="585.30" stroke="#222" stroke-width="1"/>
<line x1="269.12" y1="582.70" x2="269.12" y2="585.30" stroke="#222" stroke-width="1"/>
<line x1="245.70" y1="521.50" x2="264.20" y2="521.50" stroke="#222" stroke-width="1"/>
<path d="M254.95,517.65L254.95,519.95M253.95,518.22L255.95,519.38M255.95,518.22L253.95,519.38" stroke="#1a1a1a" stroke-width="0.72" fill="none"/>
<line x1="256.00" y1="513.50" x2="274.60" y2="513.50" stroke="#222" stroke-width="1"/>
<path d="M265.30,509.65L265.30,511.95M264.30,510.23L266.30,511.38M266.30,510.23L264.30,511.38" stroke="#1a1a1a" stroke-width="0.72" fill="none"/>
<line x1="265.00" y1="551.50" x2="274.30" y2="551.50" stroke="#222" stroke-width="1"/>
<text x="269.65" y="548.90" font-size="6.6" text-anchor="middle">n.s.</text>
<text x="254.03" y="592.10" font-size="8.4" text-anchor="end" transform="rotate(-45 254.03 592.10)" style="stroke-width:0.12px">IgG</text>
<text x="272.12" y="592.10" font-size="8.4" text-anchor="end" transform="rotate(-45 272.12 592.10)" style="stroke-width:0.12px">αIL-6R</text>
<rect x="325.70" y="557.60" width="7.00" height="25.40" fill="#E0921E"/>
<line x1="329.50" y1="557.60" x2="329.50" y2="551.50" stroke="#222" stroke-width="0.9"/>
<line x1="327.90" y1="551.50" x2="331.10" y2="551.50" stroke="#222" stroke-width="1.0"/>
<rect x="334.75" y="541.85" width="7.00" height="41.15" fill="#A50F2E"/>
<line x1="338.50" y1="541.85" x2="338.50" y2="533.50" stroke="#222" stroke-width="0.9"/>
<line x1="336.90" y1="533.50" x2="340.10" y2="533.50" stroke="#222" stroke-width="1.0"/>
<rect x="343.80" y="573.09" width="7.00" height="9.91" fill="#E0921E"/>
<line x1="347.50" y1="573.09" x2="347.50" y2="569.50" stroke="#222" stroke-width="0.9"/>
<line x1="345.90" y1="569.50" x2="349.10" y2="569.50" stroke="#222" stroke-width="1.0"/>
<rect x="352.85" y="563.44" width="7.00" height="19.56" fill="#A50F2E"/>
<line x1="356.50" y1="563.44" x2="356.50" y2="558.50" stroke="#222" stroke-width="0.9"/>
<line x1="354.90" y1="558.50" x2="358.10" y2="558.50" stroke="#222" stroke-width="1.0"/>
<line x1="324.50" y1="517.30" x2="324.50" y2="584.00" stroke="#222" stroke-width="1.1"/>
<line x1="324.00" y1="583.50" x2="361.00" y2="583.50" stroke="#222" stroke-width="1.1"/>
<line x1="321.10" y1="583.50" x2="324.10" y2="583.50" stroke="#222" stroke-width="1"/>
<text x="318.80" y="586.10" font-size="9.0" text-anchor="end" textLength="4.7" lengthAdjust="spacingAndGlyphs" style="stroke-width:0.1px">0</text>
<line x1="321.10" y1="570.50" x2="324.10" y2="570.50" stroke="#222" stroke-width="1"/>
<text x="318.80" y="573.40" font-size="9.0" text-anchor="end" textLength="4.7" lengthAdjust="spacingAndGlyphs" style="stroke-width:0.1px">5</text>
<line x1="321.10" y1="557.50" x2="324.10" y2="557.50" stroke="#222" stroke-width="1"/>
<text x="318.80" y="560.70" font-size="9.0" text-anchor="end" textLength="9.4" lengthAdjust="spacingAndGlyphs" style="stroke-width:0.1px">10</text>
<line x1="321.10" y1="544.50" x2="324.10" y2="544.50" stroke="#222" stroke-width="1"/>
<text x="318.80" y="548.00" font-size="9.0" text-anchor="end" textLength="9.4" lengthAdjust="spacingAndGlyphs" style="stroke-width:0.1px">15</text>
<line x1="321.10" y1="532.50" x2="324.10" y2="532.50" stroke="#222" stroke-width="1"/>
<text x="318.80" y="535.30" font-size="9.0" text-anchor="end" textLength="9.4" lengthAdjust="spacingAndGlyphs" style="stroke-width:0.1px">20</text>
<line x1="321.10" y1="519.50" x2="324.10" y2="519.50" stroke="#222" stroke-width="1"/>
<text x="318.80" y="522.60" font-size="9.0" text-anchor="end" textLength="9.4" lengthAdjust="spacingAndGlyphs" style="stroke-width:0.1px">25</text>
<line x1="333.73" y1="583.00" x2="333.73" y2="585.60" stroke="#222" stroke-width="1"/>
<line x1="351.83" y1="583.00" x2="351.83" y2="585.60" stroke="#222" stroke-width="1"/>
<line x1="338.50" y1="528.50" x2="355.80" y2="528.50" stroke="#222" stroke-width="1"/>
<path d="M347.15,524.65L347.15,526.95M346.15,525.22L348.15,526.38M348.15,525.22L346.15,526.38" stroke="#1a1a1a" stroke-width="0.72" fill="none"/>
<line x1="347.50" y1="555.50" x2="357.00" y2="555.50" stroke="#222" stroke-width="1"/>
<text x="352.25" y="552.90" font-size="6.6" text-anchor="middle">n.s.</text>
<text x="336.73" y="592.40" font-size="8.4" text-anchor="end" transform="rotate(-45 336.73 592.40)" style="stroke-width:0.12px">IgG</text>
<text x="354.83" y="592.40" font-size="8.4" text-anchor="end" transform="rotate(-45 354.83 592.40)" style="stroke-width:0.12px">αIL-6R</text>
<rect x="397.60" y="549.36" width="7.00" height="33.34" fill="#E0921E"/>
<line x1="401.50" y1="549.36" x2="401.50" y2="540.50" stroke="#222" stroke-width="0.9"/>
<line x1="399.90" y1="540.50" x2="403.10" y2="540.50" stroke="#222" stroke-width="1.0"/>
<rect x="406.65" y="537.97" width="7.00" height="44.73" fill="#A50F2E"/>
<line x1="410.50" y1="537.97" x2="410.50" y2="524.50" stroke="#222" stroke-width="0.9"/>
<line x1="408.90" y1="524.50" x2="412.10" y2="524.50" stroke="#222" stroke-width="1.0"/>
<rect x="415.70" y="560.76" width="7.00" height="21.94" fill="#E0921E"/>
<line x1="419.50" y1="560.76" x2="419.50" y2="556.50" stroke="#222" stroke-width="0.9"/>
<line x1="417.90" y1="556.50" x2="421.10" y2="556.50" stroke="#222" stroke-width="1.0"/>
<rect x="424.75" y="556.11" width="7.00" height="26.59" fill="#A50F2E"/>
<line x1="428.50" y1="556.11" x2="428.50" y2="551.50" stroke="#222" stroke-width="0.9"/>
<line x1="426.90" y1="551.50" x2="430.10" y2="551.50" stroke="#222" stroke-width="1.0"/>
<line x1="396.50" y1="517.30" x2="396.50" y2="583.00" stroke="#222" stroke-width="1.1"/>
<line x1="396.00" y1="582.50" x2="433.00" y2="582.50" stroke="#222" stroke-width="1.1"/>
<line x1="393.00" y1="582.50" x2="396.00" y2="582.50" stroke="#222" stroke-width="1"/>
<text x="390.50" y="585.80" font-size="9.0" text-anchor="end" textLength="4.7" lengthAdjust="spacingAndGlyphs" style="stroke-width:0.1px">0</text>
<line x1="393.00" y1="561.50" x2="396.00" y2="561.50" stroke="#222" stroke-width="1"/>
<text x="390.50" y="564.70" font-size="9.0" text-anchor="end" textLength="4.7" lengthAdjust="spacingAndGlyphs" style="stroke-width:0.1px">5</text>
<line x1="393.00" y1="540.50" x2="396.00" y2="540.50" stroke="#222" stroke-width="1"/>
<text x="390.50" y="543.60" font-size="9.0" text-anchor="end" textLength="9.4" lengthAdjust="spacingAndGlyphs" style="stroke-width:0.1px">10</text>
<line x1="393.00" y1="519.50" x2="396.00" y2="519.50" stroke="#222" stroke-width="1"/>
<text x="390.50" y="522.50" font-size="9.0" text-anchor="end" textLength="9.4" lengthAdjust="spacingAndGlyphs" style="stroke-width:0.1px">15</text>
<line x1="405.62" y1="582.70" x2="405.62" y2="585.30" stroke="#222" stroke-width="1"/>
<line x1="423.73" y1="582.70" x2="423.73" y2="585.30" stroke="#222" stroke-width="1"/>
<line x1="419.90" y1="549.50" x2="429.00" y2="549.50" stroke="#222" stroke-width="1"/>
<text x="424.45" y="546.90" font-size="6.6" text-anchor="middle">n.s.</text>
<text x="408.62" y="592.10" font-size="8.4" text-anchor="end" transform="rotate(-45 408.62 592.10)" style="stroke-width:0.12px">IgG</text>
<text x="426.73" y="592.10" font-size="8.4" text-anchor="end" transform="rotate(-45 426.73 592.10)" style="stroke-width:0.12px">αIL-6R</text>
<rect x="469.00" y="570.81" width="7.00" height="12.19" fill="#E0921E"/>
<line x1="472.50" y1="570.81" x2="472.50" y2="566.50" stroke="#222" stroke-width="0.9"/>
<line x1="470.90" y1="566.50" x2="474.10" y2="566.50" stroke="#222" stroke-width="1.0"/>
<rect x="478.05" y="536.01" width="7.00" height="46.99" fill="#A50F2E"/>
<line x1="481.50" y1="536.01" x2="481.50" y2="524.50" stroke="#222" stroke-width="0.9"/>
<line x1="479.90" y1="524.50" x2="483.10" y2="524.50" stroke="#222" stroke-width="1.0"/>
<rect x="487.10" y="572.84" width="7.00" height="10.16" fill="#E0921E"/>
<line x1="490.50" y1="572.84" x2="490.50" y2="571.50" stroke="#222" stroke-width="0.9"/>
<line x1="488.90" y1="571.50" x2="492.10" y2="571.50" stroke="#222" stroke-width="1.0"/>
<rect x="496.15" y="567.25" width="7.00" height="15.75" fill="#A50F2E"/>
<line x1="499.50" y1="567.25" x2="499.50" y2="562.50" stroke="#222" stroke-width="0.9"/>
<line x1="497.90" y1="562.50" x2="501.10" y2="562.50" stroke="#222" stroke-width="1.0"/>
<line x1="467.50" y1="517.30" x2="467.50" y2="584.00" stroke="#222" stroke-width="1.1"/>
<line x1="467.00" y1="583.50" x2="504.50" y2="583.50" stroke="#222" stroke-width="1.1"/>
<line x1="464.40" y1="583.50" x2="467.40" y2="583.50" stroke="#222" stroke-width="1"/>
<text x="461.80" y="586.10" font-size="9.0" text-anchor="end" textLength="4.7" lengthAdjust="spacingAndGlyphs" style="stroke-width:0.1px">0</text>
<line x1="464.40" y1="570.50" x2="467.40" y2="570.50" stroke="#222" stroke-width="1"/>
<text x="461.80" y="573.40" font-size="9.0" text-anchor="end" textLength="4.7" lengthAdjust="spacingAndGlyphs" style="stroke-width:0.1px">5</text>
<line x1="464.40" y1="557.50" x2="467.40" y2="557.50" stroke="#222" stroke-width="1"/>
<text x="461.80" y="560.70" font-size="9.0" text-anchor="end" textLength="9.4" lengthAdjust="spacingAndGlyphs" style="stroke-width:0.1px">10</text>
<line x1="464.40" y1="544.50" x2="467.40" y2="544.50" stroke="#222" stroke-width="1"/>
<text x="461.80" y="548.00" font-size="9.0" text-anchor="end" textLength="9.4" lengthAdjust="spacingAndGlyphs" style="stroke-width:0.1px">15</text>
<line x1="464.40" y1="532.50" x2="467.40" y2="532.50" stroke="#222" stroke-width="1"/>
<text x="461.80" y="535.30" font-size="9.0" text-anchor="end" textLength="9.4" lengthAdjust="spacingAndGlyphs" style="stroke-width:0.1px">20</text>
<line x1="464.40" y1="519.50" x2="467.40" y2="519.50" stroke="#222" stroke-width="1"/>
<text x="461.80" y="522.60" font-size="9.0" text-anchor="end" textLength="9.4" lengthAdjust="spacingAndGlyphs" style="stroke-width:0.1px">25</text>
<line x1="477.02" y1="583.00" x2="477.02" y2="585.60" stroke="#222" stroke-width="1"/>
<line x1="495.12" y1="583.00" x2="495.12" y2="585.60" stroke="#222" stroke-width="1"/>
<line x1="472.40" y1="518.50" x2="482.00" y2="518.50" stroke="#222" stroke-width="1"/>
<path d="M475.70,514.65L475.70,516.95M474.70,515.22L476.70,516.38M476.70,515.22L474.70,516.38M478.70,514.65L478.70,516.95M477.70,515.22L479.70,516.38M479.70,515.22L477.70,516.38" stroke="#1a1a1a" stroke-width="0.72" fill="none"/>
<line x1="482.00" y1="522.50" x2="500.60" y2="522.50" stroke="#222" stroke-width="1"/>
<path d="M489.80,518.65L489.80,520.95M488.80,519.22L490.80,520.38M490.80,519.22L488.80,520.38M492.80,518.65L492.80,520.95M491.80,519.22L493.80,520.38M493.80,519.22L491.80,520.38" stroke="#1a1a1a" stroke-width="0.72" fill="none"/>
<line x1="491.00" y1="558.50" x2="500.00" y2="558.50" stroke="#222" stroke-width="1"/>
<text x="495.50" y="555.90" font-size="6.6" text-anchor="middle">n.s.</text>
<text x="480.02" y="592.40" font-size="8.4" text-anchor="end" transform="rotate(-45 480.02 592.40)" style="stroke-width:0.12px">IgG</text>
<text x="498.12" y="592.40" font-size="8.4" text-anchor="end" transform="rotate(-45 498.12 592.40)" style="stroke-width:0.12px">αIL-6R</text>
<text x="221.60" y="581.30" font-size="9.0" textLength="56.6" lengthAdjust="spacingAndGlyphs" transform="rotate(-90 221.60 581.30)" style="stroke-width:0.1px"># Th22 cells (x10</text>
<text x="217.90" y="524.30" font-size="5.4" textLength="2.6" lengthAdjust="spacingAndGlyphs" transform="rotate(-90 217.90 524.30)" style="stroke-width:0.06px">3</text>
<text x="221.60" y="521.40" font-size="9.0" textLength="2.9" lengthAdjust="spacingAndGlyphs" transform="rotate(-90 221.60 521.40)" style="stroke-width:0.1px">)</text>
<text x="303.10" y="581.30" font-size="9.0" textLength="56.6" lengthAdjust="spacingAndGlyphs" transform="rotate(-90 303.10 581.30)" style="stroke-width:0.1px"># Th22 cells (x10</text>
<text x="299.40" y="524.30" font-size="5.4" textLength="2.6" lengthAdjust="spacingAndGlyphs" transform="rotate(-90 299.40 524.30)" style="stroke-width:0.06px">3</text>
<text x="303.10" y="521.40" font-size="9.0" textLength="2.9" lengthAdjust="spacingAndGlyphs" transform="rotate(-90 303.10 521.40)" style="stroke-width:0.1px">)</text>
<text x="375.50" y="581.30" font-size="9.0" textLength="56.6" lengthAdjust="spacingAndGlyphs" transform="rotate(-90 375.50 581.30)" style="stroke-width:0.1px"># Th22 cells (x10</text>
<text x="371.80" y="524.30" font-size="5.4" textLength="2.6" lengthAdjust="spacingAndGlyphs" transform="rotate(-90 371.80 524.30)" style="stroke-width:0.06px">3</text>
<text x="375.50" y="521.40" font-size="9.0" textLength="2.9" lengthAdjust="spacingAndGlyphs" transform="rotate(-90 375.50 521.40)" style="stroke-width:0.1px">)</text>
<text x="447.00" y="581.30" font-size="9.0" textLength="56.6" lengthAdjust="spacingAndGlyphs" transform="rotate(-90 447.00 581.30)" style="stroke-width:0.1px"># Th22 cells (x10</text>
<text x="443.30" y="524.30" font-size="5.4" textLength="2.6" lengthAdjust="spacingAndGlyphs" transform="rotate(-90 443.30 524.30)" style="stroke-width:0.06px">3</text>
<text x="447.00" y="521.40" font-size="9.0" textLength="2.9" lengthAdjust="spacingAndGlyphs" transform="rotate(-90 447.00 521.40)" style="stroke-width:0.1px">)</text>
<rect x="312.00" y="619.60" width="6.00" height="3.40" fill="#E0921E"/>
<text x="321.20" y="623.80" font-size="8.2">B6.WT</text>
<rect x="355.40" y="619.60" width="6.00" height="3.40" fill="#A50F2E"/>
<text x="364.60" y="623.80" font-size="8.2">sgp130Fc</text>
<rect x="0.5" y="0.5" width="519" height="632.5" fill="none" stroke="#000" stroke-width="1"/>
<rect x="0" y="632.4" width="520" height="1.6" fill="#000"/>
</svg></body></html>
